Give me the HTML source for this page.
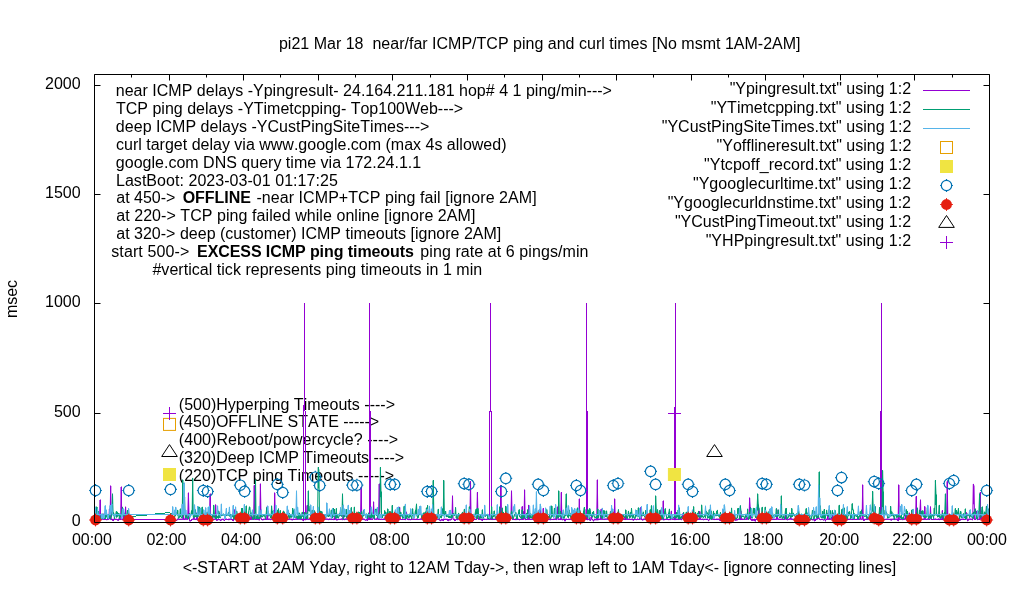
<!DOCTYPE html>
<html lang="en"><head><meta charset="utf-8"><title>pi21 ping and curl times</title>
<style>html,body{margin:0;padding:0;background:#fff;overflow:hidden}svg text{white-space:pre}</style></head>
<body>
<svg width="1020" height="600" viewBox="0 0 1020 600" font-family="'Liberation Sans', sans-serif" font-size="16" style="display:block;font-kerning:none" xml:space="preserve">
<rect width="1020" height="600" fill="#fff"/>
<path id="tics" d="M94.5 522.5v-6M94.5 74.5v6M131.5 522.5v-3M131.5 74.5v3M169.5 522.5v-6M169.5 74.5v6M206.5 522.5v-3M206.5 74.5v3M243.5 522.5v-6M243.5 74.5v6M280.5 522.5v-3M280.5 74.5v3M318.5 522.5v-6M318.5 74.5v6M355.5 522.5v-3M355.5 74.5v3M392.5 522.5v-6M392.5 74.5v6M430.5 522.5v-3M430.5 74.5v3M467.5 522.5v-6M467.5 74.5v6M504.5 522.5v-3M504.5 74.5v3M542.5 522.5v-6M542.5 74.5v6M579.5 522.5v-3M579.5 74.5v3M616.5 522.5v-6M616.5 74.5v6M653.5 522.5v-3M653.5 74.5v3M691.5 522.5v-6M691.5 74.5v6M728.5 522.5v-3M728.5 74.5v3M765.5 522.5v-6M765.5 74.5v6M803.5 522.5v-3M803.5 74.5v3M840.5 522.5v-6M840.5 74.5v6M877.5 522.5v-3M877.5 74.5v3M914.5 522.5v-6M914.5 74.5v6M952.5 522.5v-3M952.5 74.5v3M989.5 522.5v-6M989.5 74.5v6M94.5 522.5h6M989.5 522.5h-6M94.5 413.5h6M989.5 413.5h-6M94.5 303.5h6M989.5 303.5h-6M94.5 194.5h6M989.5 194.5h-6M94.5 85.5h6M989.5 85.5h-6" fill="none" stroke="#000" stroke-width="1"/>
<g id="labels" fill="#000">
<text x="115.71" y="96" textLength="496.24" lengthAdjust="spacing">near ICMP delays -Ypingresult- 24.164.211.181 hop# 4 1 ping/min---&gt;</text>
<text x="116.0" y="114" textLength="347.16" lengthAdjust="spacing">TCP ping delays -YTimetcpping- Top100Web---&gt;</text>
<text x="115.86" y="132" textLength="313.49" lengthAdjust="spacing">deep ICMP delays -YCustPingSiteTimes---&gt;</text>
<text x="116.03" y="150" textLength="390.45" lengthAdjust="spacing">curl target delay via www.google.com (max 4s allowed)</text>
<text x="115.86" y="168" textLength="305.36" lengthAdjust="spacing">google.com DNS query time via 172.24.1.1</text>
<text x="115.96" y="186" textLength="221.84" lengthAdjust="spacing">LastBoot: 2023-03-01 01:17:25</text>
<text x="116.22" y="203" textLength="59.23" lengthAdjust="spacing">at 450-&gt;</text>
<text x="182.65" y="203" textLength="68.19" lengthAdjust="spacing" font-weight="bold">OFFLINE</text>
<text x="256.43" y="203" textLength="280.23" lengthAdjust="spacing">-near ICMP+TCP ping fail [ignore 2AM]</text>
<text x="116.22" y="221" textLength="359.17" lengthAdjust="spacing">at 220-&gt; TCP ping failed while online [ignore 2AM]</text>
<text x="116.22" y="239" textLength="385.09" lengthAdjust="spacing">at 320-&gt; deep (customer) ICMP timeouts [ignore 2AM]</text>
<text x="111.2" y="257" textLength="78.14" lengthAdjust="spacing">start 500-&gt;</text>
<text x="197.04" y="257" textLength="216.89" lengthAdjust="spacing" font-weight="bold">EXCESS ICMP ping timeouts</text>
<text x="420.31" y="257" textLength="168.16" lengthAdjust="spacing">ping rate at 6 pings/min</text>
<text x="152.43" y="275" textLength="329.74" lengthAdjust="spacing">#vertical tick represents ping timeouts in 1 min</text>
<text x="178.78" y="410" textLength="216.25" lengthAdjust="spacing">(500)Hyperping Timeouts ----&gt;</text>
<text x="178.78" y="427" textLength="200.28" lengthAdjust="spacing">(450)OFFLINE STATE -----&gt;</text>
<text x="178.78" y="445" textLength="219.35" lengthAdjust="spacing">(400)Reboot/powercycle? ----&gt;</text>
<text x="178.78" y="463" textLength="225.41" lengthAdjust="spacing">(320)Deep ICMP Timeouts ----&gt;</text>
<text x="178.78" y="481" textLength="215.35" lengthAdjust="spacing">(220)TCP ping Timeouts -----&gt;</text>
</g>
<g id="data">
<path d="M94.5 519.4L95.1 520.1L95.7 519.4L96.4 517.8L97.0 519.2L97.6 519.6L98.2 519.6L98.9 519.6L99.5 519.3L100.1 500.0L100.7 519.3L101.3 519.3L102.0 519.2L102.6 519.1L103.2 514.1L103.8 519.3L104.4 519.4L105.1 519.1L105.7 519.3L106.3 519.6L106.9 519.6L107.6 519.4L108.2 519.3L108.8 519.3L109.4 509.1L110.0 519.2L110.7 486.0L111.3 519.4L111.9 519.5L112.5 519.4L113.1 520.6L113.8 519.3L114.4 519.0L115.0 519.3L115.6 519.3L116.3 519.4L116.9 519.3L117.5 519.7L118.1 520.3L118.7 519.1L119.4 519.1L120.0 519.5L120.6 519.5L121.2 487.0L121.8 519.3L122.5 519.3L123.1 519.5L123.7 515.8L124.3 519.7L125.0 519.5L125.6 507.1L126.2 519.5L126.8 519.3L127.4 520.4L128.1 519.3L128.7 519.3L129.3 517.8M171.6 519.5L172.2 519.3L172.8 519.4L173.4 519.6L174.1 519.7L174.7 519.7L175.3 519.4L175.9 520.3L176.5 520.4L177.2 519.7L177.8 519.1L178.4 519.1L179.0 519.2L179.6 519.4L180.3 519.3L180.9 519.4L181.5 519.4L182.1 519.2L182.8 519.1L183.4 513.7L184.0 519.4L184.6 519.3L185.2 519.3L185.9 516.0L186.5 519.2L187.1 519.2L187.7 519.3L188.4 493.0L189.0 514.3L189.6 520.8L190.2 520.8L190.8 520.9L191.5 519.5L192.1 519.3L192.7 519.3L193.3 519.3L193.9 516.7L194.6 519.3L195.2 519.3L195.8 519.5L196.4 519.3L197.1 512.3L197.7 519.3L198.3 520.4L198.9 519.5L199.5 519.3L200.2 519.6L200.8 519.3L201.4 519.2L202.0 519.5L202.6 519.5L203.3 519.3L203.9 520.6L204.5 519.2L205.1 519.4L205.8 519.4L206.4 519.4L207.0 519.3L207.6 518.9L208.2 519.4L208.9 519.2L209.5 515.0L210.1 494.0L210.7 517.8L211.3 517.1L212.0 519.3L212.6 519.6L213.2 519.4L213.8 519.2L214.5 519.4L215.1 519.2L215.7 504.9L216.3 519.5L216.9 520.3L217.6 519.6L218.2 519.3L218.8 519.6L219.4 519.5L220.0 519.9L220.7 520.6L221.3 519.5L221.9 519.4L222.5 519.3L223.2 519.3L223.8 519.5L224.4 520.5L225.0 519.3L225.6 519.3L226.3 519.3L226.9 519.1L227.5 519.5L228.1 519.2L228.8 519.7L229.4 519.5L230.0 519.3L230.6 517.4L231.2 519.4L231.9 519.5L232.5 519.5L233.1 520.7L233.7 519.2L234.3 509.9L235.0 519.2L235.6 519.4L236.2 519.2L236.8 520.2L237.5 519.3L238.1 519.4L238.7 519.2L239.3 519.5L239.9 514.8L240.6 519.3L241.2 519.2L241.8 519.2L242.4 519.1L243.0 520.7L243.7 519.4L244.3 519.7L244.9 519.8L245.5 519.0L246.2 513.8L246.8 519.3L247.4 519.2L248.0 519.4L248.6 519.3L249.3 519.2L249.9 519.2L250.5 519.5L251.1 514.0L251.7 519.4L252.4 517.3L253.0 519.4L253.6 519.4L254.2 485.5L254.9 519.3L255.5 519.1L256.1 519.4L256.7 519.3L257.3 519.2L258.0 519.4L258.6 519.5L259.2 519.9L259.8 519.2L260.4 484.0L261.1 519.1L261.7 519.5L262.3 519.5L262.9 519.8L263.6 519.3L264.2 519.3L264.8 519.3L265.4 519.4L266.0 519.5L266.7 519.2L267.3 506.4L267.9 519.4L268.5 519.3L269.1 519.3L269.8 519.2L270.4 519.6L271.0 519.3L271.6 519.3L272.3 519.1L272.9 519.4L273.5 516.6L274.1 519.3L274.7 493.0L275.4 519.4L276.0 520.2L276.6 519.4L277.2 519.4L277.9 515.3L278.5 519.1L279.1 519.4L279.7 519.3L280.3 519.2L281.0 519.3L281.6 519.3L282.2 519.4L282.8 519.3L283.4 519.3L284.1 519.3L284.7 519.4L285.3 519.4L285.9 519.4L286.6 519.3L287.2 519.3L287.8 519.4L288.4 519.4L289.0 519.0L289.7 519.3L290.3 519.2L290.9 519.2L291.5 519.2L292.1 519.9L292.8 519.3L293.4 519.1L294.0 519.5L294.6 519.4L295.3 519.2L295.9 519.1L296.5 519.3L297.1 516.4L297.7 519.3L298.4 519.1L299.0 519.1L299.6 519.2L300.2 515.9L300.8 519.2L301.5 519.4L302.1 519.2L302.7 519.3L303.3 520.7L304.0 519.3L304.6 519.3L305.2 519.7L305.8 519.1L306.4 519.4L307.1 505.5L307.7 519.2L308.3 519.3L308.9 519.3L309.5 519.0L310.2 519.4L310.8 519.5L311.4 519.3L312.0 519.3L312.7 519.6L313.3 519.4L313.9 519.4L314.5 519.3L315.1 519.4L315.8 515.9L316.4 519.3L317.0 519.0L317.6 519.8L318.2 519.6L318.9 519.3L319.5 519.5L320.1 519.2L320.7 520.5L321.4 519.5L322.0 519.5L322.6 519.4L323.2 520.7L323.8 519.2L324.5 519.4L325.1 519.2L325.7 519.3L326.3 519.1L327.0 519.2L327.6 519.2L328.2 519.3L328.8 519.6L329.4 519.1L330.1 519.4L330.7 519.2L331.3 519.5L331.9 519.3L332.5 519.4L333.2 519.6L333.8 519.2L334.4 519.5L335.0 513.3L335.7 519.3L336.3 519.2L336.9 520.0L337.5 519.3L338.1 519.4L338.8 519.4L339.4 519.4L340.0 519.3L340.6 519.4L341.2 519.1L341.9 519.0L342.5 519.7L343.1 513.6L343.7 519.4L344.4 519.6L345.0 519.2L345.6 519.1L346.2 519.3L346.8 519.2L347.5 519.2L348.1 519.3L348.7 519.2L349.3 519.2L349.9 519.2L350.6 519.3L351.2 519.3L351.8 519.4L352.4 519.3L353.1 519.2L353.7 519.5L354.3 519.3L354.9 519.4L355.5 519.3L356.2 519.4L356.8 519.9L357.4 519.3L358.0 519.3L358.6 519.4L359.3 520.0L359.9 519.3L360.5 519.4L361.1 487.0L361.8 519.5L362.4 519.2L363.0 519.1L363.6 519.3L364.2 519.3L364.9 519.6L365.5 520.1L366.1 520.0L366.7 519.4L367.4 520.5L368.0 515.4L368.6 519.5L369.2 519.1L369.8 519.1L370.5 519.3L371.1 519.4L371.7 519.0L372.3 519.4L372.9 519.3L373.6 502.0L374.2 519.2L374.8 519.1L375.4 519.2L376.1 519.2L376.7 519.3L377.3 517.4L377.9 519.1L378.5 519.4L379.2 484.0L379.8 519.4L380.4 519.5L381.0 519.1L381.6 519.3L382.3 519.4L382.9 519.5L383.5 519.2L384.1 519.5L384.8 519.4L385.4 516.0L386.0 519.1L386.6 519.1L387.2 519.4L387.9 520.2L388.5 519.3L389.1 520.0L389.7 519.4L390.3 519.3L391.0 519.9L391.6 519.3L392.2 519.1L392.8 520.9L393.5 519.5L394.1 519.3L394.7 519.3L395.3 519.3L395.9 512.8L396.6 519.5L397.2 519.2L397.8 519.3L398.4 515.2L399.0 519.3L399.7 507.4L400.3 519.3L400.9 519.3L401.5 519.5L402.2 519.5L402.8 519.3L403.4 519.3L404.0 519.3L404.6 519.3L405.3 519.6L405.9 519.3L406.5 512.2L407.1 519.3L407.8 519.2L408.4 519.5L409.0 519.6L409.6 519.2L410.2 519.6L410.9 519.6L411.5 519.2L412.1 519.3L412.7 519.1L413.3 519.4L414.0 519.4L414.6 519.2L415.2 519.4L415.8 519.5L416.5 519.2L417.1 519.5L417.7 519.4L418.3 519.5L418.9 519.4L419.6 519.4L420.2 519.1L420.8 519.2L421.4 519.1L422.0 519.3L422.7 519.3L423.3 519.4L423.9 519.2L424.5 520.9L425.2 519.3L425.8 519.6L426.4 519.2L427.0 519.6L427.6 519.6L428.3 519.4L428.9 519.3L429.5 516.7L430.1 519.4L430.7 519.5L431.4 519.6L432.0 515.2L432.6 519.3L433.2 519.5L433.9 520.5L434.5 519.0L435.1 519.2L435.7 519.3L436.3 519.2L437.0 519.3L437.6 519.3L438.2 519.2L438.8 519.4L439.4 519.0L440.1 520.4L440.7 520.7L441.3 519.4L441.9 519.6L442.6 519.5L443.2 520.6L443.8 519.2L444.4 519.3L445.0 519.5L445.7 519.3L446.3 519.5L446.9 519.3L447.5 519.4L448.1 520.7L448.8 519.5L449.4 519.5L450.0 520.0L450.6 519.5L451.3 519.3L451.9 519.2L452.5 496.0L453.1 519.4L453.7 519.4L454.4 519.3L455.0 520.6L455.6 520.0L456.2 519.1L456.9 519.4L457.5 519.6L458.1 519.1L458.7 519.2L459.3 519.3L460.0 519.5L460.6 520.3L461.2 519.5L461.8 519.2L462.4 519.6L463.1 519.4L463.7 519.4L464.3 519.6L464.9 519.2L465.6 519.5L466.2 520.1L466.8 519.1L467.4 519.4L468.0 519.5L468.7 519.5L469.3 519.3L469.9 519.2L470.5 481.6L471.1 519.5L471.8 517.2L472.4 519.3L473.0 520.6L473.6 519.6L474.3 519.4L474.9 519.2L475.5 519.5L476.1 519.3L476.7 519.1L477.4 492.5L478.0 515.7L478.6 519.2L479.2 519.3L479.8 519.4L480.5 519.2L481.1 519.2L481.7 519.4L482.3 520.6L483.0 519.3L483.6 519.4L484.2 519.5L484.8 519.2L485.4 519.4L486.1 519.3L486.7 519.5L487.3 519.1L487.9 519.1L488.5 519.3L489.2 519.2L489.8 519.3L490.4 519.3L491.0 519.3L491.7 519.2L492.3 519.5L492.9 519.5L493.5 519.3L494.1 519.4L494.8 519.3L495.4 519.4L496.0 519.3L496.6 519.3L497.2 519.7L497.9 519.3L498.5 519.4L499.1 519.3L499.7 519.2L500.4 519.1L501.0 485.5L501.6 519.6L502.2 519.3L502.8 519.1L503.5 519.6L504.1 519.2L504.7 519.3L505.3 517.4L506.0 519.5L506.6 519.3L507.2 519.0L507.8 519.3L508.4 519.5L509.1 519.6L509.7 519.3L510.3 519.3L510.9 519.1L511.5 491.0L512.2 519.5L512.8 519.0L513.4 519.3L514.0 519.4L514.7 519.5L515.3 519.1L515.9 519.6L516.5 519.4L517.1 519.5L517.8 519.2L518.4 519.3L519.0 519.5L519.6 519.7L520.2 519.3L520.9 519.4L521.5 519.2L522.1 506.7L522.7 519.5L523.4 511.8L524.0 519.3L524.6 490.0L525.2 519.6L525.8 519.5L526.5 519.5L527.1 519.4L527.7 519.4L528.3 519.3L528.9 505.4L529.6 519.4L530.2 519.5L530.8 519.4L531.4 519.4L532.1 519.4L532.7 519.2L533.3 513.5L533.9 519.3L534.5 513.6L535.2 519.4L535.8 519.2L536.4 520.3L537.0 515.5L537.6 520.7L538.3 519.1L538.9 519.2L539.5 519.3L540.1 509.0L540.8 520.1L541.4 519.5L542.0 519.7L542.6 519.2L543.2 508.5L543.9 519.8L544.5 519.3L545.1 519.4L545.7 519.2L546.4 519.3L547.0 519.4L547.6 519.4L548.2 519.5L548.8 519.5L549.5 519.2L550.1 519.7L550.7 519.3L551.3 519.3L551.9 519.3L552.6 519.5L553.2 519.2L553.8 519.5L554.4 519.2L555.1 519.4L555.7 519.1L556.3 516.0L556.9 519.6L557.5 507.0L558.2 519.2L558.8 519.5L559.4 519.3L560.0 519.5L560.6 519.2L561.3 492.5L561.9 519.3L562.5 519.7L563.1 519.4L563.8 519.5L564.4 519.3L565.0 520.8L565.6 519.3L566.2 519.4L566.9 519.2L567.5 519.5L568.1 519.3L568.7 519.2L569.3 519.5L570.0 519.2L570.6 519.3L571.2 519.3L571.8 519.2L572.5 520.1L573.1 513.4L573.7 519.2L574.3 519.5L574.9 519.3L575.6 519.7L576.2 519.2L576.8 517.4L577.4 519.4L578.0 519.6L578.7 519.4L579.3 499.0L579.9 519.4L580.5 519.0L581.2 519.1L581.8 519.6L582.4 519.6L583.0 519.4L583.6 519.3L584.3 519.3L584.9 519.3L585.5 519.1L586.1 509.4L586.8 514.2L587.4 519.7L588.0 519.4L588.6 519.4L589.2 519.2L589.9 520.0L590.5 520.3L591.1 516.7L591.7 519.0L592.3 519.3L593.0 519.8L593.6 521.0L594.2 519.2L594.8 519.5L595.5 519.3L596.1 519.8L596.7 519.1L597.3 480.0L597.9 519.8L598.6 519.2L599.2 519.4L599.8 519.3L600.4 519.3L601.0 509.3L601.7 519.3L602.3 519.2L602.9 519.3L603.5 519.2L604.2 519.3L604.8 519.4L605.4 519.1L606.0 519.2L606.6 519.1L607.3 519.3L607.9 519.2L608.5 519.5L609.1 519.2L609.7 519.7L610.4 519.3L611.0 519.7L611.6 519.5L612.2 519.4L612.9 519.5L613.5 519.5L614.1 519.3L614.7 499.0L615.3 519.3L616.0 519.4L616.6 519.2L617.2 512.9L617.8 519.2L618.4 519.4L619.1 519.4L619.7 519.3L620.3 519.1L620.9 519.3L621.6 519.2L622.2 519.2L622.8 519.4L623.4 519.1L624.0 519.0L624.7 519.2L625.3 519.5L625.9 516.2L626.5 519.3L627.1 519.3L627.8 519.3L628.4 519.3L629.0 519.1L629.6 519.3L630.3 519.4L630.9 519.4L631.5 519.3L632.1 519.3L632.7 519.3L633.4 520.2L634.0 519.3L634.6 519.4L635.2 519.2L635.9 519.1L636.5 519.6L637.1 519.2L637.7 519.1L638.3 519.4L639.0 519.4L639.6 519.2L640.2 519.1L640.8 507.7L641.4 519.2L642.1 519.4L642.7 520.1L643.3 519.2L643.9 519.2L644.6 519.3L645.2 519.1L645.8 519.4L646.4 519.3L647.0 519.4L647.7 519.4L648.3 519.4L648.9 519.4L649.5 519.4L650.1 519.2L650.8 519.4L651.4 519.2L652.0 519.2L652.6 519.4L653.3 519.4L653.9 519.2L654.5 519.2L655.1 519.3L655.7 519.3L656.4 519.5L657.0 519.5L657.6 519.4L658.2 519.5L658.8 519.5L659.5 519.3L660.1 519.5L660.7 510.8L661.3 519.3L662.0 519.1L662.6 519.2L663.2 501.0L663.8 519.8L664.4 519.5L665.1 519.3L665.7 519.4L666.3 519.3L666.9 519.4L667.5 519.4L668.2 519.5L668.8 519.6L669.4 519.4L670.0 519.6L670.7 519.3L671.3 511.3L671.9 519.1L672.5 519.1L673.1 519.4L673.8 519.2L674.4 519.5L675.0 519.6L675.6 519.3L676.2 519.5L676.9 519.4L677.5 519.2L678.1 519.5L678.7 519.4L679.4 519.3L680.0 519.0L680.6 519.2L681.2 519.1L681.8 519.7L682.5 513.9L683.1 519.3L683.7 519.3L684.3 519.5L685.0 519.6L685.6 519.4L686.2 519.4L686.8 519.4L687.4 519.4L688.1 519.3L688.7 519.5L689.3 519.4L689.9 519.5L690.5 519.3L691.2 519.4L691.8 519.2L692.4 519.5L693.0 518.9L693.7 519.1L694.3 519.1L694.9 519.0L695.5 519.8L696.1 519.5L696.8 519.3L697.4 519.5L698.0 519.5L698.6 519.4L699.2 519.4L699.9 511.6L700.5 519.1L701.1 519.4L701.7 519.4L702.4 519.4L703.0 519.1L703.6 519.7L704.2 519.4L704.8 519.3L705.5 519.3L706.1 519.2L706.7 519.5L707.3 519.3L707.9 519.5L708.6 520.7L709.2 519.2L709.8 519.4L710.4 510.7L711.1 519.2L711.7 519.4L712.3 519.0L712.9 519.2L713.5 519.1L714.2 519.5L714.8 519.2L715.4 519.4L716.0 519.5L716.6 519.2L717.3 519.2L717.9 519.5L718.5 519.3L719.1 519.2L719.8 520.2L720.4 519.1L721.0 520.6L721.6 519.3L722.2 519.3L722.9 519.2L723.5 519.1L724.1 520.4L724.7 519.2L725.4 519.9L726.0 519.7L726.6 519.6L727.2 519.6L727.8 519.1L728.5 519.4L729.1 520.4L729.7 519.4L730.3 519.0L730.9 519.3L731.6 519.1L732.2 519.2L732.8 519.2L733.4 519.3L734.1 519.5L734.7 519.7L735.3 519.2L735.9 520.3L736.5 519.1L737.2 519.9L737.8 519.3L738.4 519.2L739.0 519.2L739.6 519.1L740.3 519.5L740.9 510.8L741.5 519.2L742.1 519.5L742.8 519.2L743.4 519.3L744.0 519.4L744.6 519.1L745.2 519.1L745.9 519.3L746.5 519.3L747.1 513.8L747.7 519.2L748.3 519.2L749.0 519.5L749.6 498.0L750.2 507.5L750.8 519.3L751.5 519.3L752.1 520.4L752.7 519.3L753.3 520.2L753.9 519.5L754.6 519.3L755.2 521.1L755.8 519.6L756.4 519.2L757.0 519.2L757.7 514.4L758.3 520.8L758.9 508.2L759.5 519.3L760.2 519.1L760.8 515.7L761.4 519.4L762.0 519.4L762.6 519.3L763.3 519.3L763.9 519.2L764.5 519.2L765.1 519.4L765.8 519.2L766.4 519.2L767.0 519.6L767.6 519.4L768.2 519.5L768.9 519.4L769.5 519.2L770.1 519.2L770.7 519.2L771.3 519.3L772.0 519.4L772.6 519.3L773.2 519.4L773.8 519.3L774.5 519.3L775.1 519.4L775.7 519.4L776.3 519.4L776.9 509.5L777.6 519.2L778.2 519.1L778.8 519.4L779.4 519.3L780.0 519.3L780.7 519.4L781.3 519.2L781.9 519.2L782.5 519.4L783.2 519.3L783.8 519.5L784.4 519.4L785.0 519.2L785.6 512.1L786.3 519.4L786.9 519.4L787.5 519.7L788.1 519.4L788.7 519.3L789.4 519.1L790.0 519.2L790.6 517.1L791.2 519.3L791.9 519.0L792.5 519.3L793.1 519.4L793.7 519.3L794.3 519.5L795.0 519.3L795.6 519.2L796.2 519.6L796.8 519.5L797.4 519.3L798.1 519.2L798.7 519.3L799.3 519.1L799.9 519.5L800.6 520.6L801.2 519.5L801.8 519.4L802.4 519.1L803.0 519.4L803.7 519.4L804.3 519.2L804.9 519.3L805.5 519.1L806.1 519.2L806.8 519.5L807.4 519.2L808.0 519.3L808.6 519.3L809.3 519.1L809.9 519.9L810.5 519.3L811.1 519.2L811.7 519.4L812.4 519.4L813.0 519.9L813.6 519.3L814.2 519.6L814.9 520.9L815.5 519.3L816.1 519.4L816.7 519.1L817.3 519.0L818.0 516.1L818.6 516.6L819.2 519.4L819.8 519.1L820.4 519.6L821.1 519.5L821.7 519.3L822.3 519.4L822.9 519.3L823.6 520.1L824.2 519.4L824.8 518.0L825.4 521.0L826.0 519.4L826.7 519.3L827.3 519.2L827.9 513.9L828.5 519.4L829.1 519.5L829.8 519.4L830.4 519.1L831.0 519.1L831.6 517.4L832.3 519.7L832.9 512.8L833.5 519.5L834.1 520.8L834.7 519.2L835.4 519.7L836.0 519.5L836.6 516.4L837.2 519.5L837.8 519.5L838.5 515.8L839.1 519.2L839.7 514.5L840.3 519.3L841.0 519.2L841.6 519.5L842.2 519.4L842.8 519.1L843.4 519.3L844.1 519.3L844.7 519.5L845.3 519.4L845.9 519.1L846.5 519.4L847.2 519.5L847.8 519.5L848.4 519.3L849.0 519.4L849.7 519.3L850.3 519.2L850.9 519.3L851.5 519.3L852.1 519.2L852.8 519.5L853.4 519.3L854.0 519.3L854.6 519.3L855.2 519.4L855.9 519.5L856.5 519.4L857.1 519.4L857.7 519.2L858.4 519.3L859.0 519.3L859.6 519.4L860.2 517.1L860.8 519.2L861.5 519.3L862.1 519.2L862.7 485.0L863.3 519.5L864.0 520.4L864.6 519.4L865.2 519.4L865.8 519.3L866.4 519.2L867.1 519.5L867.7 519.4L868.3 519.1L868.9 518.0L869.5 519.5L870.2 519.4L870.8 519.2L871.4 519.4L872.0 519.3L872.7 519.3L873.3 519.3L873.9 519.6L874.5 519.3L875.1 519.1L875.8 519.2L876.4 519.5L877.0 519.4L877.6 519.5L878.2 519.1L878.9 519.3L879.5 519.6L880.1 519.2L880.7 519.4L881.4 512.3L882.0 519.4L882.6 519.6L883.2 519.0L883.8 519.4L884.5 519.3L885.1 519.4L885.7 519.4L886.3 519.3L886.9 519.3L887.6 519.3L888.2 519.3L888.8 519.2L889.4 519.4L890.1 519.3L890.7 519.5L891.3 520.1L891.9 519.2L892.5 519.3L893.2 519.4L893.8 519.0L894.4 519.5L895.0 519.3L895.6 519.2L896.3 519.3L896.9 519.1L897.5 519.2L898.1 520.7L898.8 485.0L899.4 519.4L900.0 519.4L900.6 519.2L901.2 519.2L901.9 519.1L902.5 519.6L903.1 519.5L903.7 519.5L904.4 519.1L905.0 519.0L905.6 512.8L906.2 520.1L906.8 519.6L907.5 519.4L908.1 519.4L908.7 519.4L909.3 513.1L909.9 519.3L910.6 519.4L911.2 515.0L911.8 519.3L912.4 519.9L913.1 519.2L913.7 519.4L914.3 519.4L914.9 519.2L915.5 519.2L916.2 496.5L916.8 519.2L917.4 519.3L918.0 519.5L918.6 519.3L919.3 519.3L919.9 511.1L920.5 500.0L921.1 519.6L921.8 519.4L922.4 519.4L923.0 519.5L923.6 519.2L924.2 519.4L924.9 506.7L925.5 518.9L926.1 519.4L926.7 519.4L927.3 519.1L928.0 519.1L928.6 519.1L929.2 519.3L929.8 519.5L930.5 506.9L931.1 519.5L931.7 519.3L932.3 519.5L932.9 519.5L933.6 519.5L934.2 519.2L934.8 519.4L935.4 519.1L936.0 519.4L936.7 519.4L937.3 519.4L937.9 519.5L938.5 519.1L939.2 519.1L939.8 519.6L940.4 519.4L941.0 519.3L941.6 519.5L942.3 510.7L942.9 519.5L943.5 519.3L944.1 519.8L944.8 519.3L945.4 520.1L946.0 519.1L946.6 519.3L947.2 481.6L947.9 519.6L948.5 519.4L949.1 519.3L949.7 519.4L950.3 519.3L951.0 519.2L951.6 519.3L952.2 519.4L952.8 520.2L953.5 519.3L954.1 519.4L954.7 515.9L955.3 519.4L955.9 519.4L956.6 519.2L957.2 519.4L957.8 519.2L958.4 519.2L959.0 519.0L959.7 520.6L960.3 519.4L960.9 519.5L961.5 519.4L962.2 519.1L962.8 519.3L963.4 519.2L964.0 519.5L964.6 519.5L965.3 519.3L965.9 519.5L966.5 512.8L967.1 519.6L967.7 520.8L968.4 519.3L969.0 519.3L969.6 519.1L970.2 519.3L970.9 519.1L971.5 519.3L972.1 519.0L972.7 519.8L973.3 484.4L974.0 486.0L974.6 519.3L975.2 519.2L975.8 519.5L976.4 511.3L977.1 519.2L977.7 519.6L978.3 519.2L978.9 519.3L979.6 519.5L980.2 492.5L980.8 519.2L981.4 514.4L982.0 519.5L982.7 519.2L983.3 519.3L983.9 519.5L984.5 519.5L985.1 519.4L985.8 519.3L986.4 519.4L987.0 520.0L987.6 519.2L988.3 519.2L988.9 519.4L989.5 519.4" fill="none" stroke="#9400d3" stroke-width="1" stroke-linejoin="miter" stroke-miterlimit="2"/><path d="M94.5 518.9V520.4M95.5 518.9V520.6M96.5 517.3V519.7M97.5 519.1V520.1M98.5 519.1V520.1M99.5 518.8V520.0M100.5 499.5V519.8M101.5 518.7V519.8M102.5 518.6V519.7M103.5 513.6V519.9M104.5 518.9V519.9M105.5 518.6V519.9M106.5 519.1V520.1M107.5 518.9V520.1M108.5 518.8V519.8M109.5 508.6V519.1M110.5 485.5V519.7M111.5 518.9V520.0M112.5 518.9V520.8M113.5 518.8V521.1M114.5 518.5V519.8M115.5 518.8V519.9M116.5 518.8V519.9M117.5 519.2V520.6M118.5 518.6V520.8M119.5 518.6V520.0M120.5 519.0V520.0M121.5 486.5V519.8M122.5 518.8V520.0M123.5 515.3V520.0M124.5 519.0V520.2M125.5 506.6V519.1M126.5 518.8V520.1M127.5 519.9V520.9M128.5 518.8V519.9M129.5 517.3V519.1M171.5 519.0V520.0M172.5 518.8V520.0M173.5 519.1V520.2M174.5 519.2V520.2M175.5 518.9V520.8M176.5 519.9V520.9M177.5 518.6V520.3M178.5 518.6V519.7M179.5 518.7V519.9M180.5 518.8V519.9M181.5 518.9V519.9M182.5 518.6V519.8M183.5 513.2V519.9M184.5 518.8V519.9M185.5 515.5V519.8M186.5 518.7V519.7M187.5 518.7V519.8M188.5 492.5V515.1M189.5 520.3V521.3M190.5 520.3V521.4M191.5 519.0V521.0M192.5 518.8V519.8M193.5 516.2V519.8M194.5 518.8V519.8M195.5 518.8V520.0M196.5 518.8V519.9M197.5 511.8V520.4M198.5 519.0V520.9M199.5 518.8V520.0M200.5 518.8V520.1M201.5 518.7V520.0M202.5 519.0V520.0M203.5 518.8V521.1M204.5 518.7V520.9M205.5 518.9V519.9M206.5 518.8V519.9M207.5 518.4V519.8M208.5 518.7V519.9M209.5 514.5V518.8M210.5 493.5V518.3M211.5 516.6V519.8M212.5 519.1V520.1M213.5 518.7V519.9M214.5 518.9V519.9M215.5 504.4V519.7M216.5 519.0V520.8M217.5 519.1V520.7M218.5 518.8V520.1M219.5 519.0V520.3M220.5 519.4V521.1M221.5 518.9V520.5M222.5 518.8V519.9M223.5 518.8V520.4M224.5 520.0V521.0M225.5 518.8V519.9M226.5 518.6V519.8M227.5 519.0V520.0M228.5 518.7V520.2M229.5 518.8V520.1M230.5 516.9V519.8M231.5 518.9V520.0M232.5 519.0V521.0M233.5 518.7V521.2M234.5 509.4V519.7M235.5 518.9V519.9M236.5 518.7V520.7M237.5 518.8V520.4M238.5 518.7V519.9M239.5 514.3V520.0M240.5 518.8V519.8M241.5 518.7V519.8M242.5 518.6V521.1M243.5 518.9V521.2M244.5 519.2V520.3M245.5 518.5V520.2M246.5 513.3V519.8M247.5 518.7V519.9M248.5 518.8V519.9M249.5 518.7V519.8M250.5 519.0V520.0M251.5 513.5V519.9M252.5 516.8V519.9M253.5 518.9V519.9M254.5 485.0V519.8M255.5 518.6V519.9M256.5 518.8V519.9M257.5 518.7V519.9M258.5 519.0V520.2M259.5 518.7V520.4M260.5 483.5V515.7M261.5 518.6V520.0M262.5 519.0V520.3M263.5 518.8V520.2M264.5 518.8V519.8M265.5 518.9V520.0M266.5 518.7V520.0M267.5 505.9V519.9M268.5 518.8V519.9M269.5 518.7V519.8M270.5 519.1V520.1M271.5 518.8V519.8M272.5 518.6V519.9M273.5 516.1V519.4M274.5 492.5V519.8M275.5 518.9V520.7M276.5 518.9V520.6M277.5 514.8V519.9M278.5 518.6V519.8M279.5 518.8V519.9M280.5 518.7V519.8M281.5 518.8V519.9M282.5 518.8V519.9M283.5 518.8V519.8M284.5 518.8V519.9M285.5 518.9V519.9M286.5 518.8V519.9M287.5 518.8V519.9M288.5 518.9V519.9M289.5 518.5V519.8M290.5 518.7V519.7M291.5 518.7V520.2M292.5 518.8V520.4M293.5 518.6V520.0M294.5 518.9V520.0M295.5 518.6V519.8M296.5 518.8V519.8M297.5 515.9V519.8M298.5 518.6V519.7M299.5 518.7V519.7M300.5 515.4V519.8M301.5 518.9V519.9M302.5 518.7V520.5M303.5 518.8V521.2M304.5 518.8V520.1M305.5 518.6V520.2M306.5 518.9V519.9M307.5 505.0V519.8M308.5 518.8V519.8M309.5 518.5V519.8M310.5 518.9V520.0M311.5 518.8V519.9M312.5 518.8V520.1M313.5 518.9V520.0M314.5 518.8V519.9M315.5 515.4V519.9M316.5 518.8V519.8M317.5 518.5V520.3M318.5 518.8V520.2M319.5 519.0V520.0M320.5 518.7V521.0M321.5 519.0V520.6M322.5 518.9V520.7M323.5 518.7V521.2M324.5 518.9V519.9M325.5 518.7V519.8M326.5 518.6V519.7M327.5 518.7V519.8M328.5 518.8V520.1M329.5 518.6V520.0M330.5 518.7V519.9M331.5 518.8V520.0M332.5 518.9V520.0M333.5 518.7V520.1M334.5 519.0V520.0M335.5 512.8V519.8M336.5 518.7V520.5M337.5 518.8V520.4M338.5 518.9V519.9M339.5 518.9V519.9M340.5 518.8V519.9M341.5 518.5V519.8M342.5 519.2V520.2M343.5 513.1V520.0M344.5 518.7V520.1M345.5 518.6V519.8M346.5 518.7V519.8M347.5 518.7V519.8M348.5 518.7V519.8M349.5 518.7V519.7M350.5 518.8V519.8M351.5 518.8V519.9M352.5 518.8V519.9M353.5 518.7V520.0M354.5 518.8V519.9M355.5 518.8V519.9M356.5 518.9V520.4M357.5 518.8V520.2M358.5 518.8V520.2M359.5 518.8V520.5M360.5 518.9V519.9M361.5 486.5V520.0M362.5 518.7V519.9M363.5 518.6V519.8M364.5 518.8V520.2M365.5 519.6V520.6M366.5 518.9V520.5M367.5 514.9V521.0M368.5 519.0V520.0M369.5 518.6V519.8M370.5 518.8V519.9M371.5 518.5V519.9M372.5 518.8V519.9M373.5 501.5V518.2M374.5 518.6V519.7M375.5 518.7V519.7M376.5 518.7V519.8M377.5 516.9V519.7M378.5 518.9V519.9M379.5 483.5V519.9M380.5 519.0V520.0M381.5 518.6V519.8M382.5 518.9V520.0M383.5 518.7V520.0M384.5 518.9V520.0M385.5 515.5V519.6M386.5 518.6V519.8M387.5 518.9V520.7M388.5 518.8V520.5M389.5 518.9V520.5M390.5 518.8V520.4M391.5 518.8V520.3M392.5 518.6V521.4M393.5 519.0V521.0M394.5 518.8V519.8M395.5 512.3V519.8M396.5 519.0V520.0M397.5 518.7V519.8M398.5 514.7V519.5M399.5 506.9V519.8M400.5 518.8V519.8M401.5 519.0V520.0M402.5 518.8V520.0M403.5 518.8V519.8M404.5 518.8V520.0M405.5 518.8V520.1M406.5 511.7V518.5M407.5 518.7V519.8M408.5 519.0V520.1M409.5 518.7V520.1M410.5 519.1V520.1M411.5 518.7V520.0M412.5 518.6V519.8M413.5 518.9V519.9M414.5 518.7V519.9M415.5 518.9V520.0M416.5 518.7V520.0M417.5 518.9V520.0M418.5 518.9V520.0M419.5 518.9V519.9M420.5 518.6V519.7M421.5 518.6V519.8M422.5 518.8V519.9M423.5 518.7V520.0M424.5 520.4V521.4M425.5 518.8V520.2M426.5 518.7V520.0M427.5 519.1V520.1M428.5 518.8V520.0M429.5 516.2V519.3M430.5 518.9V520.0M431.5 514.7V520.1M432.5 518.8V519.9M433.5 519.0V521.0M434.5 518.5V520.7M435.5 518.7V519.8M436.5 518.7V519.8M437.5 518.8V519.8M438.5 518.7V519.9M439.5 518.5V520.7M440.5 519.9V521.2M441.5 518.9V520.6M442.5 519.0V520.8M443.5 518.7V521.1M444.5 518.8V520.0M445.5 518.8V520.0M446.5 518.8V520.0M447.5 518.9V520.9M448.5 519.0V521.2M449.5 519.0V520.5M450.5 519.0V520.5M451.5 518.7V519.9M452.5 495.5V515.3M453.5 518.9V519.9M454.5 518.8V521.1M455.5 519.5V521.0M456.5 518.6V519.9M457.5 519.1V520.1M458.5 518.6V519.7M459.5 518.8V520.1M460.5 519.8V520.8M461.5 518.7V520.3M462.5 519.1V520.1M463.5 518.9V520.0M464.5 518.7V520.1M465.5 519.0V520.4M466.5 518.6V520.6M467.5 518.9V520.0M468.5 519.0V520.0M469.5 518.7V519.9M470.5 481.1V513.9M471.5 516.7V520.0M472.5 518.8V521.0M473.5 519.1V521.1M474.5 518.7V520.0M475.5 519.0V520.0M476.5 518.6V519.8M477.5 492.0V516.3M478.5 518.7V519.8M479.5 518.8V519.9M480.5 518.7V519.9M481.5 518.7V520.5M482.5 518.8V521.1M483.5 518.9V520.0M484.5 518.7V520.0M485.5 518.9V519.9M486.5 518.8V520.0M487.5 518.6V519.8M488.5 518.8V519.8M489.5 518.7V519.8M490.5 518.8V519.8M491.5 518.7V519.9M492.5 519.0V520.0M493.5 518.8V520.0M494.5 518.8V519.9M495.5 518.9V519.9M496.5 518.8V520.0M497.5 518.8V520.2M498.5 518.9V519.9M499.5 518.7V519.8M500.5 485.0V519.6M501.5 519.1V520.1M502.5 518.6V519.9M503.5 519.1V520.1M504.5 518.7V519.8M505.5 516.9V520.0M506.5 518.8V520.0M507.5 518.5V519.9M508.5 519.0V520.1M509.5 518.8V520.1M510.5 518.6V519.8M511.5 490.5V516.2M512.5 518.5V520.0M513.5 518.8V519.9M514.5 518.9V520.0M515.5 518.6V520.1M516.5 518.9V520.1M517.5 518.7V520.0M518.5 518.8V520.0M519.5 519.0V520.2M520.5 518.8V520.0M521.5 518.7V519.9M522.5 506.2V520.0M523.5 511.3V519.8M524.5 489.5V518.6M525.5 519.0V520.1M526.5 519.0V520.0M527.5 518.9V519.9M528.5 504.9V519.9M529.5 518.9V519.9M530.5 518.9V520.0M531.5 518.9V519.9M532.5 518.7V519.9M533.5 513.0V519.8M534.5 513.1V519.0M535.5 518.7V520.1M536.5 519.8V520.8M537.5 515.0V521.2M538.5 518.6V520.3M539.5 518.8V519.8M540.5 508.5V520.6M541.5 519.0V520.4M542.5 518.7V520.2M543.5 508.0V520.3M544.5 518.8V520.2M545.5 518.7V519.9M546.5 518.8V519.9M547.5 518.9V519.9M548.5 519.0V520.0M549.5 518.7V520.1M550.5 518.8V520.2M551.5 518.8V519.8M552.5 519.0V520.0M553.5 518.7V520.0M554.5 518.7V519.9M555.5 518.6V519.9M556.5 515.5V520.1M557.5 506.5V518.4M558.5 518.7V520.0M559.5 518.8V520.0M560.5 518.7V520.0M561.5 492.0V519.9M562.5 519.2V520.2M563.5 518.9V520.0M564.5 518.8V521.3M565.5 518.8V521.3M566.5 518.7V519.9M567.5 519.0V520.0M568.5 518.7V519.8M569.5 518.7V520.0M570.5 518.8V519.8M571.5 518.7V519.9M572.5 519.6V520.6M573.5 512.9V519.8M574.5 518.8V520.0M575.5 519.2V520.2M576.5 516.9V519.8M577.5 518.9V520.1M578.5 518.9V520.1M579.5 498.5V519.9M580.5 518.5V519.8M581.5 518.6V520.1M582.5 519.1V520.1M583.5 518.8V519.9M584.5 518.8V519.8M585.5 518.6V519.7M586.5 508.9V516.9M587.5 518.9V520.2M588.5 518.9V519.9M589.5 518.7V520.6M590.5 519.8V520.8M591.5 516.2V519.6M592.5 518.8V520.4M593.5 520.5V521.5M594.5 518.7V520.3M595.5 518.8V520.3M596.5 518.6V520.3M597.5 479.5V520.3M598.5 518.7V520.2M599.5 518.8V519.9M600.5 518.8V519.8M601.5 508.8V519.8M602.5 518.7V519.8M603.5 518.7V519.8M604.5 518.8V519.9M605.5 518.6V519.8M606.5 518.6V519.7M607.5 518.7V519.8M608.5 519.0V520.0M609.5 518.7V520.2M610.5 518.8V520.2M611.5 519.0V520.2M612.5 518.9V520.0M613.5 519.0V520.0M614.5 498.5V519.8M615.5 518.8V519.9M616.5 518.7V519.9M617.5 512.4V519.8M618.5 518.9V519.9M619.5 518.8V519.9M620.5 518.6V519.8M621.5 518.7V519.8M622.5 518.7V519.9M623.5 518.6V519.8M624.5 518.5V519.9M625.5 515.7V520.0M626.5 518.8V519.8M627.5 518.8V519.8M628.5 518.8V519.8M629.5 518.6V519.8M630.5 518.9V519.9M631.5 518.8V519.9M632.5 518.8V520.2M633.5 518.8V520.7M634.5 518.9V519.9M635.5 518.6V519.8M636.5 519.1V520.1M637.5 518.6V519.8M638.5 518.9V519.9M639.5 518.7V519.9M640.5 507.2V519.6M641.5 518.7V519.9M642.5 518.9V520.6M643.5 518.7V520.2M644.5 518.8V519.8M645.5 518.6V519.9M646.5 518.8V519.9M647.5 518.9V519.9M648.5 518.9V519.9M649.5 518.9V519.9M650.5 518.7V519.9M651.5 518.7V519.8M652.5 518.7V519.9M653.5 518.7V519.9M654.5 518.7V519.8M655.5 518.8V519.9M656.5 519.0V520.0M657.5 518.9V520.0M658.5 519.0V520.0M659.5 518.8V520.0M660.5 510.3V520.0M661.5 518.6V519.8M662.5 518.7V519.7M663.5 500.5V520.3M664.5 519.0V520.2M665.5 518.8V519.9M666.5 518.8V519.9M667.5 518.9V520.0M668.5 519.0V520.1M669.5 518.9V520.1M670.5 518.8V520.1M671.5 510.8V519.6M672.5 518.6V519.8M673.5 518.7V519.9M674.5 519.0V520.1M675.5 518.8V520.1M676.5 518.9V520.0M677.5 518.7V519.9M678.5 518.9V520.0M679.5 518.5V519.8M680.5 518.7V519.7M681.5 518.6V520.2M682.5 513.4V519.1M683.5 518.8V519.9M684.5 519.0V520.1M685.5 518.9V520.0M686.5 518.9V519.9M687.5 518.9V519.9M688.5 518.8V520.0M689.5 518.9V520.0M690.5 518.8V520.0M691.5 518.7V519.9M692.5 519.0V520.0M693.5 518.4V519.6M694.5 518.5V519.6M695.5 519.3V520.3M696.5 518.8V520.1M697.5 519.0V520.0M698.5 518.9V520.0M699.5 511.1V519.9M700.5 518.6V519.8M701.5 518.9V519.9M702.5 518.6V519.9M703.5 519.2V520.2M704.5 518.8V520.0M705.5 518.8V519.8M706.5 518.7V520.0M707.5 518.8V520.1M708.5 520.2V521.2M709.5 518.7V520.2M710.5 510.2V518.9M711.5 518.7V519.9M712.5 518.5V519.7M713.5 518.6V519.9M714.5 518.7V520.0M715.5 518.9V520.0M716.5 518.7V520.0M717.5 518.7V520.0M718.5 518.8V519.9M719.5 518.7V520.7M720.5 518.6V521.1M721.5 518.8V521.1M722.5 518.7V519.8M723.5 518.6V520.6M724.5 518.7V520.9M725.5 519.2V520.4M726.5 519.1V520.2M727.5 518.6V520.1M728.5 518.9V520.8M729.5 518.9V520.9M730.5 518.5V519.8M731.5 518.6V519.8M732.5 518.7V519.7M733.5 518.8V520.0M734.5 519.0V520.2M735.5 518.7V520.8M736.5 518.6V520.6M737.5 518.8V520.4M738.5 518.7V519.8M739.5 518.6V519.8M740.5 510.3V520.0M741.5 518.7V520.0M742.5 518.7V520.0M743.5 518.8V519.9M744.5 518.6V519.9M745.5 518.6V519.8M746.5 518.8V519.8M747.5 513.3V519.7M748.5 518.7V520.0M749.5 497.5V518.9M750.5 507.0V519.8M751.5 518.8V520.8M752.5 518.8V520.9M753.5 519.0V520.7M754.5 518.8V521.1M755.5 519.1V521.6M756.5 518.7V520.0M757.5 513.9V519.7M758.5 507.7V521.3M759.5 518.8V519.8M760.5 515.2V519.7M761.5 518.9V519.9M762.5 518.8V519.9M763.5 518.7V519.8M764.5 518.7V519.8M765.5 518.7V519.9M766.5 518.7V520.1M767.5 518.9V520.1M768.5 518.9V520.0M769.5 518.7V519.9M770.5 518.7V519.7M771.5 518.8V519.9M772.5 518.8V519.9M773.5 518.8V519.9M774.5 518.8V519.9M775.5 518.9V519.9M776.5 509.0V519.9M777.5 518.7V519.7M778.5 518.6V519.9M779.5 518.8V519.9M780.5 518.8V519.9M781.5 518.7V519.8M782.5 518.9V519.9M783.5 518.8V520.0M784.5 518.9V519.9M785.5 511.6V519.7M786.5 518.9V520.0M787.5 519.2V520.2M788.5 518.8V520.0M789.5 518.6V519.7M790.5 516.6V519.7M791.5 518.5V519.8M792.5 518.8V519.9M793.5 518.8V519.9M794.5 518.8V520.0M795.5 518.7V520.0M796.5 519.0V520.1M797.5 518.8V519.9M798.5 518.7V519.8M799.5 518.6V520.1M800.5 520.1V521.1M801.5 518.9V520.3M802.5 518.6V519.9M803.5 518.9V519.9M804.5 518.7V519.8M805.5 518.6V519.8M806.5 518.7V520.0M807.5 518.7V519.9M808.5 518.8V519.8M809.5 518.6V520.4M810.5 518.8V520.3M811.5 518.7V519.9M812.5 518.9V520.4M813.5 518.8V520.4M814.5 519.1V521.4M815.5 518.8V521.0M816.5 518.6V519.9M817.5 515.6V519.6M818.5 516.1V519.0M819.5 518.6V519.9M820.5 519.1V520.1M821.5 518.8V520.0M822.5 518.8V519.9M823.5 519.6V520.6M824.5 517.5V520.1M825.5 520.5V521.5M826.5 518.8V520.0M827.5 513.4V519.8M828.5 518.9V519.9M829.5 518.9V520.0M830.5 518.6V519.8M831.5 516.9V519.6M832.5 512.3V520.2M833.5 519.0V521.0M834.5 518.7V521.3M835.5 519.0V520.2M836.5 515.9V519.9M837.5 519.0V520.0M838.5 515.3V519.2M839.5 514.0V519.7M840.5 518.7V519.8M841.5 519.0V520.0M842.5 518.6V519.9M843.5 518.8V519.8M844.5 518.8V520.0M845.5 518.6V520.0M846.5 518.9V519.9M847.5 519.0V520.0M848.5 518.8V520.0M849.5 518.8V519.9M850.5 518.7V519.8M851.5 518.8V519.8M852.5 518.7V520.0M853.5 518.8V519.9M854.5 518.8V519.8M855.5 518.9V520.0M856.5 518.9V520.0M857.5 518.7V519.9M858.5 518.8V519.8M859.5 518.9V519.9M860.5 516.6V519.7M861.5 518.8V519.8M862.5 484.5V519.7M863.5 519.0V520.9M864.5 518.9V520.8M865.5 518.8V519.9M866.5 518.7V520.0M867.5 518.9V520.0M868.5 517.5V519.8M869.5 519.0V520.0M870.5 518.7V519.9M871.5 518.9V519.9M872.5 518.8V519.8M873.5 518.8V520.1M874.5 518.8V520.0M875.5 518.6V519.8M876.5 519.0V520.0M877.5 518.9V520.0M878.5 518.6V519.9M879.5 519.1V520.1M880.5 518.7V519.9M881.5 511.8V519.9M882.5 519.1V520.1M883.5 518.5V519.9M884.5 518.8V519.9M885.5 518.9V519.9M886.5 518.8V519.8M887.5 518.8V519.8M888.5 518.7V519.8M889.5 518.9V519.9M890.5 518.8V520.3M891.5 518.7V520.6M892.5 518.8V519.9M893.5 518.5V519.9M894.5 519.0V520.0M895.5 518.7V519.8M896.5 518.6V519.8M897.5 518.7V520.8M898.5 484.5V521.2M899.5 518.9V519.9M900.5 518.7V519.9M901.5 518.6V519.7M902.5 519.1V520.1M903.5 519.0V520.0M904.5 518.5V519.8M905.5 512.3V519.2M906.5 519.1V520.6M907.5 518.9V520.0M908.5 518.9V519.9M909.5 512.6V519.8M910.5 518.9V519.9M911.5 514.5V520.0M912.5 519.4V520.4M913.5 518.7V519.9M914.5 518.7V519.9M915.5 518.7V519.7M916.5 496.0V519.8M917.5 518.8V519.9M918.5 518.8V520.0M919.5 510.6V519.8M920.5 499.5V515.9M921.5 518.9V520.1M922.5 518.9V520.0M923.5 518.7V520.0M924.5 506.2V519.9M925.5 518.4V519.9M926.5 518.9V519.9M927.5 518.6V519.8M928.5 518.6V519.7M929.5 518.8V520.0M930.5 506.4V518.5M931.5 518.8V520.0M932.5 519.0V520.0M933.5 519.0V520.0M934.5 518.7V519.9M935.5 518.6V519.9M936.5 518.9V519.9M937.5 518.9V520.0M938.5 518.6V520.0M939.5 518.6V520.1M940.5 518.9V520.0M941.5 518.8V520.0M942.5 510.2V520.0M943.5 518.8V520.2M944.5 518.8V520.3M945.5 518.6V520.6M946.5 518.8V519.8M947.5 481.1V520.1M948.5 518.9V520.0M949.5 518.8V519.9M950.5 518.7V519.8M951.5 518.8V519.9M952.5 518.9V520.7M953.5 518.8V520.4M954.5 515.4V519.9M955.5 518.9V519.9M956.5 518.7V519.9M957.5 518.7V519.9M958.5 518.7V519.7M959.5 518.5V521.1M960.5 518.9V520.5M961.5 518.9V520.0M962.5 518.6V519.8M963.5 518.7V520.0M964.5 519.0V520.0M965.5 518.8V520.0M966.5 512.3V518.8M967.5 519.1V521.3M968.5 518.8V520.7M969.5 518.6V519.8M970.5 518.6V519.8M971.5 518.8V519.8M972.5 518.5V520.3M973.5 483.9V504.3M974.5 518.8V519.8M975.5 518.7V520.0M976.5 510.8V518.9M977.5 518.7V520.1M978.5 518.7V519.9M979.5 519.0V520.0M980.5 492.0V519.7M981.5 513.9V519.7M982.5 518.7V520.0M983.5 518.8V520.0M984.5 519.0V520.0M985.5 518.8V519.9M986.5 518.9V520.4M987.5 518.7V520.5M988.5 518.7V519.9M989.5 518.9V519.9M129 519.5H172" fill="none" stroke="#9400d3" stroke-width="1"/>
<path d="M304.5 303V411M303.5 405V520M305.5 411V520M369.5 303V520M370.5 411V520M490.5 303V411.5M489.5 411V520M491.5 411V520M586.5 303V520M587.5 411V520M675.5 303V520M674.5 407V520M881.5 303V520M880.5 411V520M489 411.5h3M303 405.5h2" fill="none" stroke="#9400d3" stroke-width="1"/>
<path d="M94.5 518.0L95.1 518.3L95.7 515.0L96.4 514.4L97.0 507.0L97.6 516.9L98.2 511.5L98.9 517.5L99.5 518.3L100.1 517.4L100.7 518.3L101.3 514.3L102.0 518.8L102.6 514.1L103.2 516.8L103.8 516.9L104.4 518.5L105.1 518.4L105.7 514.2L106.3 511.5L106.9 516.6L107.6 518.6L108.2 514.9L108.8 514.6L109.4 514.7L110.0 517.9L110.7 518.8L111.3 514.4L111.9 514.5L112.5 494.0L113.1 513.4L113.8 512.9L114.4 518.5L115.0 515.2L115.6 514.9L116.3 511.6L116.9 517.2L117.5 512.3L118.1 515.0L118.7 513.5L119.4 518.4L120.0 514.1L120.6 516.4L121.2 514.8L121.8 511.2L122.5 507.3L123.1 515.2L123.7 512.5L124.3 513.5L125.0 517.6L125.6 518.6L126.2 517.9L126.8 515.2L127.4 510.5L128.1 518.8L128.7 515.7L129.3 517.4M171.6 518.8L172.2 515.4L172.8 517.7L173.4 517.6L174.1 517.0L174.7 515.9L175.3 515.8L175.9 514.4L176.5 512.7L177.2 515.0L177.8 510.4L178.4 518.2L179.0 516.7L179.6 517.2L180.3 509.0L180.9 516.3L181.5 517.8L182.1 517.2L182.8 480.0L183.4 515.0L184.0 511.8L184.6 497.0L185.2 515.8L185.9 517.7L186.5 514.6L187.1 517.6L187.7 517.8L188.4 518.8L189.0 516.3L189.6 513.5L190.2 516.4L190.8 515.7L191.5 510.9L192.1 514.4L192.7 478.4L193.3 517.1L193.9 515.4L194.6 517.1L195.2 509.9L195.8 516.5L196.4 513.5L197.1 517.0L197.7 514.9L198.3 516.2L198.9 507.1L199.5 507.4L200.2 516.6L200.8 514.7L201.4 515.1L202.0 507.3L202.6 513.7L203.3 513.2L203.9 518.6L204.5 514.3L205.1 517.3L205.8 518.7L206.4 514.8L207.0 512.9L207.6 512.3L208.2 517.9L208.9 517.4L209.5 512.3L210.1 515.0L210.7 515.3L211.3 516.6L212.0 518.7L212.6 515.5L213.2 517.1L213.8 505.4L214.5 515.1L215.1 517.4L215.7 518.7L216.3 518.4L216.9 515.7L217.6 516.8L218.2 518.1L218.8 511.2L219.4 513.4L220.0 517.7L220.7 515.6L221.3 515.4L221.9 514.6L222.5 515.2L223.2 514.9L223.8 514.0L224.4 516.0L225.0 515.2L225.6 514.7L226.3 515.6L226.9 515.3L227.5 514.2L228.1 515.2L228.8 512.5L229.4 516.1L230.0 514.6L230.6 514.5L231.2 516.9L231.9 517.2L232.5 513.9L233.1 516.2L233.7 519.0L234.3 515.2L235.0 518.8L235.6 512.2L236.2 514.7L236.8 511.3L237.5 514.8L238.1 518.0L238.7 516.2L239.3 515.6L239.9 518.7L240.6 518.7L241.2 517.1L241.8 508.6L242.4 508.5L243.0 513.8L243.7 517.1L244.3 515.0L244.9 512.0L245.5 513.8L246.2 506.0L246.8 515.9L247.4 515.4L248.0 518.5L248.6 512.2L249.3 507.2L249.9 507.1L250.5 515.1L251.1 516.0L251.7 513.0L252.4 517.6L253.0 519.0L253.6 518.9L254.2 515.1L254.9 518.4L255.5 480.0L256.1 518.5L256.7 516.4L257.3 518.6L258.0 514.9L258.6 518.5L259.2 517.5L259.8 518.3L260.4 514.3L261.1 516.0L261.7 516.1L262.3 516.8L262.9 516.1L263.6 514.6L264.2 515.2L264.8 515.0L265.4 518.9L266.0 514.9L266.7 507.8L267.3 512.7L267.9 510.7L268.5 515.9L269.1 515.3L269.8 514.2L270.4 517.0L271.0 517.9L271.6 506.1L272.3 514.7L272.9 511.3L273.5 516.0L274.1 516.4L274.7 518.2L275.4 515.9L276.0 514.5L276.6 514.6L277.2 512.2L277.9 510.5L278.5 508.9L279.1 515.7L279.7 514.8L280.3 510.7L281.0 515.9L281.6 515.9L282.2 515.0L282.8 518.9L283.4 511.2L284.1 512.2L284.7 513.4L285.3 516.9L285.9 518.5L286.6 517.4L287.2 518.9L287.8 517.9L288.4 515.1L289.0 513.5L289.7 518.2L290.3 516.2L290.9 514.6L291.5 517.2L292.1 516.0L292.8 508.5L293.4 511.1L294.0 517.2L294.6 513.7L295.3 517.2L295.9 515.3L296.5 517.2L297.1 516.7L297.7 518.8L298.4 513.2L299.0 518.4L299.6 513.2L300.2 516.3L300.8 518.7L301.5 516.7L302.1 512.4L302.7 516.3L303.3 514.4L304.0 518.5L304.6 512.6L305.2 513.1L305.8 516.8L306.4 518.6L307.1 512.7L307.7 518.4L308.3 491.0L308.9 510.7L309.5 511.0L310.2 506.0L310.8 515.4L311.4 517.2L312.0 510.4L312.7 516.8L313.3 511.3L313.9 514.5L314.5 510.9L315.1 516.7L315.8 514.4L316.4 514.2L317.0 518.0L317.6 518.0L318.2 467.5L318.9 470.0L319.5 513.7L320.1 511.3L320.7 516.8L321.4 514.2L322.0 511.7L322.6 516.2L323.2 515.7L323.8 516.8L324.5 514.7L325.1 514.9L325.7 517.7L326.3 514.2L327.0 513.7L327.6 514.8L328.2 516.5L328.8 515.1L329.4 512.7L330.1 516.2L330.7 514.7L331.3 510.2L331.9 518.1L332.5 513.7L333.2 508.5L333.8 516.7L334.4 509.5L335.0 515.6L335.7 518.1L336.3 508.7L336.9 518.0L337.5 514.4L338.1 517.9L338.8 517.3L339.4 513.4L340.0 515.5L340.6 509.2L341.2 516.2L341.9 515.6L342.5 494.0L343.1 518.9L343.7 518.2L344.4 514.4L345.0 515.0L345.6 516.0L346.2 509.6L346.8 517.8L347.5 516.1L348.1 514.8L348.7 511.7L349.3 516.8L349.9 513.5L350.6 515.6L351.2 507.7L351.8 518.3L352.4 512.3L353.1 516.6L353.7 518.6L354.3 507.3L354.9 517.4L355.5 518.1L356.2 513.0L356.8 517.2L357.4 517.9L358.0 512.1L358.6 515.6L359.3 512.5L359.9 513.1L360.5 518.5L361.1 513.3L361.8 511.7L362.4 517.6L363.0 515.7L363.6 510.3L364.2 513.7L364.9 515.0L365.5 514.4L366.1 515.9L366.7 514.0L367.4 518.3L368.0 514.8L368.6 513.1L369.2 517.3L369.8 516.5L370.5 514.4L371.1 517.8L371.7 512.1L372.3 515.3L372.9 516.9L373.6 514.5L374.2 518.5L374.8 513.0L375.4 509.4L376.1 509.3L376.7 515.4L377.3 509.8L377.9 517.2L378.5 516.4L379.2 512.3L379.8 512.6L380.4 467.5L381.0 492.0L381.6 514.4L382.3 517.6L382.9 515.6L383.5 515.3L384.1 515.1L384.8 510.8L385.4 518.3L386.0 512.4L386.6 518.1L387.2 515.1L387.9 509.0L388.5 514.7L389.1 517.4L389.7 511.7L390.3 517.3L391.0 511.9L391.6 515.9L392.2 505.5L392.8 514.2L393.5 515.4L394.1 517.8L394.7 517.2L395.3 518.4L395.9 517.4L396.6 517.3L397.2 514.9L397.8 518.3L398.4 515.4L399.0 508.3L399.7 516.8L400.3 515.2L400.9 512.3L401.5 516.0L402.2 515.2L402.8 518.1L403.4 517.1L404.0 506.4L404.6 516.7L405.3 507.7L405.9 518.5L406.5 515.0L407.1 516.7L407.8 514.8L408.4 518.0L409.0 517.3L409.6 514.2L410.2 516.2L410.9 515.6L411.5 518.6L412.1 515.1L412.7 508.9L413.3 518.0L414.0 514.2L414.6 517.2L415.2 511.7L415.8 510.4L416.5 504.2L417.1 516.3L417.7 518.1L418.3 516.4L418.9 514.8L419.6 512.7L420.2 514.7L420.8 514.4L421.4 514.5L422.0 518.3L422.7 515.1L423.3 513.0L423.9 516.5L424.5 513.8L425.2 512.0L425.8 518.2L426.4 508.0L427.0 515.4L427.6 505.6L428.3 518.8L428.9 514.0L429.5 510.4L430.1 514.2L430.7 513.8L431.4 517.0L432.0 516.5L432.6 515.4L433.2 480.5L433.9 514.3L434.5 514.5L435.1 518.1L435.7 515.6L436.3 514.4L437.0 517.3L437.6 517.3L438.2 509.4L438.8 519.0L439.4 515.5L440.1 516.0L440.7 517.1L441.3 517.6L441.9 515.8L442.6 508.9L443.2 515.2L443.8 480.5L444.4 514.5L445.0 513.6L445.7 511.5L446.3 516.6L446.9 514.7L447.5 516.4L448.1 515.9L448.8 517.4L449.4 516.1L450.0 517.8L450.6 517.1L451.3 514.6L451.9 517.7L452.5 514.1L453.1 514.9L453.7 513.7L454.4 515.5L455.0 514.5L455.6 507.7L456.2 518.1L456.9 514.9L457.5 518.6L458.1 515.4L458.7 513.4L459.3 518.9L460.0 514.5L460.6 516.1L461.2 514.3L461.8 514.3L462.4 512.4L463.1 514.2L463.7 516.0L464.3 509.4L464.9 518.8L465.6 515.2L466.2 516.8L466.8 516.1L467.4 517.1L468.0 514.9L468.7 513.9L469.3 506.9L469.9 510.6L470.5 515.8L471.1 515.5L471.8 514.4L472.4 514.5L473.0 517.5L473.6 517.7L474.3 515.2L474.9 515.1L475.5 511.3L476.1 509.1L476.7 517.7L477.4 518.6L478.0 508.4L478.6 514.6L479.2 517.0L479.8 518.6L480.5 515.1L481.1 516.9L481.7 517.8L482.3 509.9L483.0 518.0L483.6 517.7L484.2 514.6L484.8 514.2L485.4 516.3L486.1 515.4L486.7 514.9L487.3 514.4L487.9 518.4L488.5 518.3L489.2 518.7L489.8 516.4L490.4 518.4L491.0 515.9L491.7 506.8L492.3 518.8L492.9 516.7L493.5 515.5L494.1 511.1L494.8 514.6L495.4 518.2L496.0 516.7L496.6 517.8L497.2 517.9L497.9 516.1L498.5 515.3L499.1 516.4L499.7 507.0L500.4 515.7L501.0 517.9L501.6 515.0L502.2 508.2L502.8 514.6L503.5 512.4L504.1 515.3L504.7 518.2L505.3 517.2L506.0 506.4L506.6 517.2L507.2 516.2L507.8 517.6L508.4 516.3L509.1 515.7L509.7 514.4L510.3 516.4L510.9 515.8L511.5 511.1L512.2 512.4L512.8 518.0L513.4 518.4L514.0 515.8L514.7 514.5L515.3 515.7L515.9 512.5L516.5 517.5L517.1 519.0L517.8 514.7L518.4 513.4L519.0 509.8L519.6 514.8L520.2 517.4L520.9 517.1L521.5 518.7L522.1 509.9L522.7 518.3L523.4 515.8L524.0 514.2L524.6 516.0L525.2 518.2L525.8 516.4L526.5 513.4L527.1 518.3L527.7 509.9L528.3 516.3L528.9 514.5L529.6 517.9L530.2 517.8L530.8 513.8L531.4 517.4L532.1 517.9L532.7 515.0L533.3 516.6L533.9 515.4L534.5 512.2L535.2 517.5L535.8 512.5L536.4 517.4L537.0 515.6L537.6 514.8L538.3 514.3L538.9 516.6L539.5 518.5L540.1 515.6L540.8 518.2L541.4 516.9L542.0 518.6L542.6 516.6L543.2 518.6L543.9 514.2L544.5 517.7L545.1 517.9L545.7 515.7L546.4 510.6L547.0 509.8L547.6 518.1L548.2 516.6L548.8 517.6L549.5 515.1L550.1 518.3L550.7 518.4L551.3 515.7L551.9 506.1L552.6 516.2L553.2 515.5L553.8 515.7L554.4 508.4L555.1 510.3L555.7 507.1L556.3 518.5L556.9 514.2L557.5 514.8L558.2 517.5L558.8 491.0L559.4 516.2L560.0 515.9L560.6 511.4L561.3 517.4L561.9 516.6L562.5 513.1L563.1 517.0L563.8 518.1L564.4 517.7L565.0 515.6L565.6 509.0L566.2 494.0L566.9 515.1L567.5 511.8L568.1 517.5L568.7 515.4L569.3 510.3L570.0 515.8L570.6 513.9L571.2 518.8L571.8 516.5L572.5 514.4L573.1 517.9L573.7 518.5L574.3 515.5L574.9 511.4L575.6 514.7L576.2 514.8L576.8 512.7L577.4 508.0L578.0 517.4L578.7 514.7L579.3 518.1L579.9 510.4L580.5 517.1L581.2 514.3L581.8 519.0L582.4 515.3L583.0 515.7L583.6 511.4L584.3 507.5L584.9 517.9L585.5 514.7L586.1 515.9L586.8 514.3L587.4 517.0L588.0 509.6L588.6 510.4L589.2 518.8L589.9 508.7L590.5 511.7L591.1 516.0L591.7 515.0L592.3 517.1L593.0 512.6L593.6 511.5L594.2 517.1L594.8 516.9L595.5 517.6L596.1 516.5L596.7 518.2L597.3 516.6L597.9 509.0L598.6 517.4L599.2 513.0L599.8 511.2L600.4 511.9L601.0 517.0L601.7 517.3L602.3 518.2L602.9 515.8L603.5 510.8L604.2 515.0L604.8 510.9L605.4 515.7L606.0 516.6L606.6 511.1L607.3 517.8L607.9 518.3L608.5 518.2L609.1 517.5L609.7 518.4L610.4 511.7L611.0 516.4L611.6 515.3L612.2 517.9L612.9 515.0L613.5 515.4L614.1 516.8L614.7 515.1L615.3 518.5L616.0 518.8L616.6 514.3L617.2 517.7L617.8 518.2L618.4 509.8L619.1 515.0L619.7 516.4L620.3 518.0L620.9 516.2L621.6 518.7L622.2 515.9L622.8 514.6L623.4 514.8L624.0 516.9L624.7 517.7L625.3 515.1L625.9 510.0L626.5 516.1L627.1 518.3L627.8 516.8L628.4 511.4L629.0 515.4L629.6 517.8L630.3 512.6L630.9 517.2L631.5 508.5L632.1 514.8L632.7 518.0L633.4 515.5L634.0 517.1L634.6 518.3L635.2 516.7L635.9 510.2L636.5 511.1L637.1 516.7L637.7 516.1L638.3 507.9L639.0 516.1L639.6 518.4L640.2 517.6L640.8 515.2L641.4 515.1L642.1 515.8L642.7 513.8L643.3 512.2L643.9 515.3L644.6 516.7L645.2 516.9L645.8 510.7L646.4 518.8L647.0 516.3L647.7 518.0L648.3 517.5L648.9 517.9L649.5 515.9L650.1 509.8L650.8 518.3L651.4 505.8L652.0 517.3L652.6 518.6L653.3 514.0L653.9 515.2L654.5 517.1L655.1 518.5L655.7 496.0L656.4 512.3L657.0 514.5L657.6 509.8L658.2 516.9L658.8 515.3L659.5 510.7L660.1 517.0L660.7 516.3L661.3 509.0L662.0 518.6L662.6 514.8L663.2 518.9L663.8 516.0L664.4 512.3L665.1 508.8L665.7 512.4L666.3 516.1L666.9 518.4L667.5 517.6L668.2 517.5L668.8 513.2L669.4 509.3L670.0 518.1L670.7 516.6L671.3 518.4L671.9 517.6L672.5 517.2L673.1 517.9L673.8 517.5L674.4 515.0L675.0 514.8L675.6 516.8L676.2 518.0L676.9 512.6L677.5 517.0L678.1 510.0L678.7 518.8L679.4 508.0L680.0 518.7L680.6 517.6L681.2 516.6L681.8 517.5L682.5 518.1L683.1 518.3L683.7 512.6L684.3 518.8L685.0 518.5L685.6 517.0L686.2 512.3L686.8 516.2L687.4 517.7L688.1 518.1L688.7 517.7L689.3 515.6L689.9 515.2L690.5 513.0L691.2 515.5L691.8 517.0L692.4 517.7L693.0 514.7L693.7 506.8L694.3 518.0L694.9 515.9L695.5 512.5L696.1 517.8L696.8 518.1L697.4 513.3L698.0 516.7L698.6 511.4L699.2 517.1L699.9 517.2L700.5 515.4L701.1 517.1L701.7 505.2L702.4 515.3L703.0 516.8L703.6 517.8L704.2 515.6L704.8 515.0L705.5 517.7L706.1 511.4L706.7 515.0L707.3 512.9L707.9 518.0L708.6 514.7L709.2 509.8L709.8 517.7L710.4 518.9L711.1 511.2L711.7 519.0L712.3 517.2L712.9 515.6L713.5 511.4L714.2 517.2L714.8 513.7L715.4 515.6L716.0 515.7L716.6 511.6L717.3 510.4L717.9 515.3L718.5 516.1L719.1 515.1L719.8 517.4L720.4 512.5L721.0 514.5L721.6 515.8L722.2 515.3L722.9 516.8L723.5 510.0L724.1 517.8L724.7 512.2L725.4 517.4L726.0 514.2L726.6 515.2L727.2 518.2L727.8 517.6L728.5 516.7L729.1 514.4L729.7 514.9L730.3 512.6L730.9 517.1L731.6 508.3L732.2 518.0L732.8 517.1L733.4 515.0L734.1 514.4L734.7 516.2L735.3 518.9L735.9 517.7L736.5 518.7L737.2 517.2L737.8 508.8L738.4 508.5L739.0 514.3L739.6 518.8L740.3 505.8L740.9 510.2L741.5 517.6L742.1 516.0L742.8 516.4L743.4 516.3L744.0 516.3L744.6 518.9L745.2 516.3L745.9 514.3L746.5 516.7L747.1 516.4L747.7 509.2L748.3 518.7L749.0 518.9L749.6 512.6L750.2 515.6L750.8 508.2L751.5 515.3L752.1 517.8L752.7 517.1L753.3 508.4L753.9 511.1L754.6 508.5L755.2 516.4L755.8 517.5L756.4 517.5L757.0 509.5L757.7 494.0L758.3 505.0L758.9 508.3L759.5 518.5L760.2 515.3L760.8 515.0L761.4 517.4L762.0 507.4L762.6 514.9L763.3 515.4L763.9 514.9L764.5 517.8L765.1 507.3L765.8 513.0L766.4 516.8L767.0 512.8L767.6 515.9L768.2 511.9L768.9 514.8L769.5 514.4L770.1 515.2L770.7 515.2L771.3 512.7L772.0 517.6L772.6 513.1L773.2 515.9L773.8 517.2L774.5 514.5L775.1 516.3L775.7 515.4L776.3 508.7L776.9 516.7L777.6 515.0L778.2 510.0L778.8 514.6L779.4 517.5L780.0 517.6L780.7 516.8L781.3 496.0L781.9 516.7L782.5 518.3L783.2 515.9L783.8 517.0L784.4 518.9L785.0 515.1L785.6 508.9L786.3 508.6L786.9 518.6L787.5 517.9L788.1 517.0L788.7 514.7L789.4 516.0L790.0 513.1L790.6 516.9L791.2 517.0L791.9 508.6L792.5 516.4L793.1 513.3L793.7 514.3L794.3 515.8L795.0 515.2L795.6 517.9L796.2 516.9L796.8 513.9L797.4 515.7L798.1 514.6L798.7 511.5L799.3 517.0L799.9 515.5L800.6 517.7L801.2 514.1L801.8 516.8L802.4 517.3L803.0 516.1L803.7 517.1L804.3 518.1L804.9 515.8L805.5 513.5L806.1 508.7L806.8 515.2L807.4 513.1L808.0 515.5L808.6 515.3L809.3 515.1L809.9 517.2L810.5 519.0L811.1 518.9L811.7 517.1L812.4 510.5L813.0 515.4L813.6 518.8L814.2 518.0L814.9 511.4L815.5 515.9L816.1 515.5L816.7 518.0L817.3 516.1L818.0 516.6L818.6 517.3L819.2 472.0L819.8 513.9L820.4 506.0L821.1 517.6L821.7 515.7L822.3 517.8L822.9 511.5L823.6 518.0L824.2 509.5L824.8 518.9L825.4 515.7L826.0 514.8L826.7 510.4L827.3 515.5L827.9 514.6L828.5 516.3L829.1 509.3L829.8 518.5L830.4 510.8L831.0 516.4L831.6 517.3L832.3 510.7L832.9 512.9L833.5 514.9L834.1 518.2L834.7 518.5L835.4 510.9L836.0 516.7L836.6 517.4L837.2 514.4L837.8 514.4L838.5 518.0L839.1 505.4L839.7 515.4L840.3 518.5L841.0 518.5L841.6 510.2L842.2 509.0L842.8 515.1L843.4 514.2L844.1 508.2L844.7 517.0L845.3 514.5L845.9 518.6L846.5 515.5L847.2 518.9L847.8 516.9L848.4 512.3L849.0 513.8L849.7 511.7L850.3 515.8L850.9 518.4L851.5 513.3L852.1 503.8L852.8 509.5L853.4 510.1L854.0 518.4L854.6 513.9L855.2 515.9L855.9 514.7L856.5 516.5L857.1 515.1L857.7 518.4L858.4 518.8L859.0 516.7L859.6 515.7L860.2 511.7L860.8 516.3L861.5 510.1L862.1 515.1L862.7 515.5L863.3 515.4L864.0 515.3L864.6 516.3L865.2 515.9L865.8 516.2L866.4 515.4L867.1 518.4L867.7 517.0L868.3 516.3L868.9 517.1L869.5 517.2L870.2 513.2L870.8 516.8L871.4 514.7L872.0 510.9L872.7 491.5L873.3 510.9L873.9 515.2L874.5 507.9L875.1 506.8L875.8 515.6L876.4 516.4L877.0 515.1L877.6 516.7L878.2 514.5L878.9 518.5L879.5 507.6L880.1 514.2L880.7 517.4L881.4 510.3L882.0 514.5L882.6 470.6L883.2 492.0L883.8 516.0L884.5 514.7L885.1 510.3L885.7 512.8L886.3 512.1L886.9 513.3L887.6 518.0L888.2 517.1L888.8 517.1L889.4 517.1L890.1 514.7L890.7 506.5L891.3 515.7L891.9 511.8L892.5 515.6L893.2 514.2L893.8 515.7L894.4 519.0L895.0 514.9L895.6 515.0L896.3 514.9L896.9 517.3L897.5 515.2L898.1 514.8L898.8 516.6L899.4 516.5L900.0 516.2L900.6 517.8L901.2 515.4L901.9 518.8L902.5 517.8L903.1 518.4L903.7 517.3L904.4 513.6L905.0 514.3L905.6 514.5L906.2 509.8L906.8 518.1L907.5 511.4L908.1 515.8L908.7 518.1L909.3 515.2L909.9 516.7L910.6 515.5L911.2 515.8L911.8 510.3L912.4 509.9L913.1 518.5L913.7 515.2L914.3 518.3L914.9 515.1L915.5 518.4L916.2 516.4L916.8 517.1L917.4 508.1L918.0 514.6L918.6 516.4L919.3 515.0L919.9 510.3L920.5 518.5L921.1 515.2L921.8 511.4L922.4 515.7L923.0 510.8L923.6 515.1L924.2 517.5L924.9 515.4L925.5 517.3L926.1 517.1L926.7 515.4L927.3 507.7L928.0 513.2L928.6 518.8L929.2 516.5L929.8 516.4L930.5 513.4L931.1 518.3L931.7 515.9L932.3 515.7L932.9 514.6L933.6 518.3L934.2 508.2L934.8 515.4L935.4 480.5L936.0 495.0L936.7 515.2L937.3 514.8L937.9 516.8L938.5 515.1L939.2 505.4L939.8 516.7L940.4 518.3L941.0 515.6L941.6 517.2L942.3 515.1L942.9 513.1L943.5 518.6L944.1 515.0L944.8 512.5L945.4 494.0L946.0 515.5L946.6 516.9L947.2 517.0L947.9 515.0L948.5 516.6L949.1 518.7L949.7 517.6L950.3 516.3L951.0 517.6L951.6 515.7L952.2 516.7L952.8 512.4L953.5 518.1L954.1 514.8L954.7 515.1L955.3 508.7L955.9 515.3L956.6 510.6L957.2 512.7L957.8 514.4L958.4 508.6L959.0 514.3L959.7 518.5L960.3 514.2L960.9 511.6L961.5 517.7L962.2 517.3L962.8 514.5L963.4 513.8L964.0 517.0L964.6 517.8L965.3 509.0L965.9 518.5L966.5 518.7L967.1 514.0L967.7 515.2L968.4 515.2L969.0 514.6L969.6 517.7L970.2 514.3L970.9 515.8L971.5 517.0L972.1 513.8L972.7 516.4L973.3 518.3L974.0 512.2L974.6 514.1L975.2 509.0L975.8 512.5L976.4 516.1L977.1 518.9L977.7 517.9L978.3 511.6L978.9 511.8L979.6 494.0L980.2 517.1L980.8 517.4L981.4 512.8L982.0 507.0L982.7 510.1L983.3 516.7L983.9 515.7L984.5 512.1L985.1 514.7L985.8 512.8L986.4 506.4L987.0 517.1L987.6 516.9L988.3 509.0L988.9 512.7L989.5 516.0" fill="none" stroke="#009e73" stroke-width="1" stroke-linejoin="miter" stroke-miterlimit="2"/><path d="M94.5 517.5V518.7M95.5 514.5V518.8M96.5 506.5V515.2M97.5 516.4V517.4M98.5 511.0V518.2M99.5 517.8V518.8M100.5 516.9V518.8M101.5 513.8V519.3M102.5 513.6V519.0M103.5 516.3V517.9M104.5 518.0V519.0M105.5 513.7V518.9M106.5 511.0V517.3M107.5 518.1V519.1M108.5 514.1V516.4M109.5 514.2V518.2M110.5 517.4V519.3M111.5 513.9V516.9M112.5 493.5V511.8M113.5 512.4V515.5M114.5 518.0V519.0M115.5 514.4V515.8M116.5 511.1V517.7M117.5 511.8V516.7M118.5 513.0V516.0M119.5 513.6V518.9M120.5 515.9V516.9M121.5 510.7V515.9M122.5 506.8V514.5M123.5 512.0V515.7M124.5 513.0V518.2M125.5 518.1V519.1M126.5 514.7V518.6M127.5 510.0V518.5M128.5 515.2V519.3M129.5 516.9V517.9M171.5 518.3V519.3M172.5 514.9V518.2M173.5 517.1V518.1M174.5 515.4V517.5M175.5 513.9V516.3M176.5 512.2V514.9M177.5 509.9V515.5M178.5 517.7V518.7M179.5 516.2V517.7M180.5 508.5V517.0M181.5 517.3V518.3M182.5 479.5V517.8M183.5 514.5V515.5M184.5 496.5V512.3M185.5 515.3V518.2M186.5 514.1V517.6M187.5 517.1V518.7M188.5 515.8V519.3M189.5 513.0V516.7M190.5 515.2V516.9M191.5 510.4V515.0M192.5 477.9V514.9M193.5 514.9V517.6M194.5 516.6V517.6M195.5 509.4V517.0M196.5 513.0V517.2M197.5 514.4V517.5M198.5 506.6V516.7M199.5 506.9V514.7M200.5 514.2V517.1M201.5 514.6V515.6M202.5 506.8V514.2M203.5 512.7V519.1M204.5 513.8V518.3M205.5 516.8V519.2M206.5 512.4V517.6M207.5 511.8V516.3M208.5 516.9V518.4M209.5 511.8V516.7M210.5 514.5V516.3M211.5 516.1V519.2M212.5 515.0V519.0M213.5 504.9V517.6M214.5 514.6V517.6M215.5 516.9V519.2M216.5 515.2V519.0M217.5 516.3V518.2M218.5 510.7V518.6M219.5 512.9V517.9M220.5 515.1V518.2M221.5 514.1V516.0M222.5 514.7V515.7M223.5 513.5V515.4M224.5 515.5V516.5M225.5 514.2V515.8M226.5 514.8V516.1M227.5 513.7V515.6M228.5 512.0V515.7M229.5 514.1V516.6M230.5 514.0V516.5M231.5 516.4V517.7M232.5 513.4V516.9M233.5 515.7V519.5M234.5 514.7V519.3M235.5 511.7V518.9M236.5 510.8V515.2M237.5 514.3V518.2M238.5 515.7V518.5M239.5 515.1V519.2M240.5 518.2V519.2M241.5 508.1V518.1M242.5 508.0V513.9M243.5 513.3V517.6M244.5 511.5V516.5M245.5 513.3V514.3M246.5 505.5V516.4M247.5 514.9V518.9M248.5 511.7V519.0M249.5 506.6V509.8M250.5 514.6V516.3M251.5 512.5V516.5M252.5 517.1V519.5M253.5 518.4V519.5M254.5 514.6V518.9M255.5 479.5V513.0M256.5 515.9V519.0M257.5 514.4V519.1M258.5 518.0V519.0M259.5 517.0V518.8M260.5 513.8V517.7M261.5 515.5V517.0M262.5 515.6V517.3M263.5 514.1V516.4M264.5 514.5V516.7M265.5 518.4V519.4M266.5 507.3V515.7M267.5 510.2V513.2M268.5 515.4V516.4M269.5 513.7V516.0M270.5 516.5V518.4M271.5 505.6V518.4M272.5 510.8V515.2M273.5 515.5V516.8M274.5 515.9V518.7M275.5 514.0V517.8M276.5 514.1V515.1M277.5 510.0V513.6M278.5 508.4V515.2M279.5 514.3V516.2M280.5 510.2V516.4M281.5 515.4V516.4M282.5 514.5V519.4M283.5 510.7V517.2M284.5 511.7V515.6M285.5 516.4V519.0M286.5 516.9V518.9M287.5 517.4V519.4M288.5 514.6V517.5M289.5 513.0V518.7M290.5 514.1V517.6M291.5 516.7V517.7M292.5 508.0V516.8M293.5 510.6V517.6M294.5 513.2V517.7M295.5 514.8V517.7M296.5 516.7V517.7M297.5 516.2V519.3M298.5 512.7V518.9M299.5 512.7V518.8M300.5 515.8V519.2M301.5 516.2V518.7M302.5 511.9V516.8M303.5 513.9V519.0M304.5 512.1V518.5M305.5 512.6V517.8M306.5 518.1V519.1M307.5 512.2V518.9M308.5 490.5V511.2M309.5 510.5V511.5M310.5 505.5V516.5M311.5 516.7V517.7M312.5 509.9V517.3M313.5 510.8V515.0M314.5 510.4V515.9M315.5 513.9V517.2M316.5 513.7V518.4M317.5 517.5V518.5M318.5 467.0V488.3M319.5 513.2V514.2M320.5 510.8V517.3M321.5 511.2V516.2M322.5 515.7V516.7M323.5 515.2V517.3M324.5 514.2V516.8M325.5 514.4V518.2M326.5 513.2V516.5M327.5 514.3V516.4M328.5 514.6V517.0M329.5 512.2V516.4M330.5 514.2V516.7M331.5 509.7V518.6M332.5 513.2V518.1M333.5 508.0V517.2M334.5 509.0V515.8M335.5 515.1V518.6M336.5 508.2V518.5M337.5 513.9V517.9M338.5 516.8V518.4M339.5 512.9V516.3M340.5 508.7V516.0M341.5 515.1V516.7M342.5 493.5V515.0M343.5 517.7V519.4M344.5 513.9V517.1M345.5 515.5V516.5M346.5 509.1V518.3M347.5 515.6V517.8M348.5 511.2V515.5M349.5 513.0V517.3M350.5 515.1V516.1M351.5 507.2V518.8M352.5 511.8V517.0M353.5 516.1V519.1M354.5 506.8V518.0M355.5 517.6V518.6M356.5 512.5V517.9M357.5 517.4V518.4M358.5 511.6V516.1M359.5 512.0V514.5M360.5 518.0V519.0M361.5 511.2V514.9M362.5 517.1V518.1M363.5 509.8V516.2M364.5 513.2V515.5M365.5 513.9V516.1M366.5 513.5V516.4M367.5 514.3V518.8M368.5 512.6V516.3M369.5 516.0V517.8M370.5 513.9V517.9M371.5 511.6V518.3M372.5 514.8V517.4M373.5 514.0V517.8M374.5 512.5V519.0M375.5 508.9V512.4M376.5 508.8V515.9M377.5 509.3V517.7M378.5 515.9V517.6M379.5 511.8V513.9M380.5 467.0V497.2M381.5 491.5V516.7M382.5 515.1V518.1M383.5 514.8V516.0M384.5 510.3V515.6M385.5 511.9V518.8M386.5 517.6V518.6M387.5 508.5V516.7M388.5 514.2V517.5M389.5 511.2V517.9M390.5 511.4V517.8M391.5 515.4V516.4M392.5 505.0V515.0M393.5 514.9V518.0M394.5 516.7V518.3M395.5 516.9V518.9M396.5 516.8V517.9M397.5 514.4V518.8M398.5 514.9V517.9M399.5 507.8V517.3M400.5 511.8V516.5M401.5 515.5V516.5M402.5 514.7V518.6M403.5 516.6V518.2M404.5 505.9V517.2M405.5 507.2V519.0M406.5 514.5V518.4M407.5 514.3V517.2M408.5 516.8V518.5M409.5 513.7V517.7M410.5 515.1V516.7M411.5 518.1V519.1M412.5 508.4V516.1M413.5 513.7V518.5M414.5 516.7V517.7M415.5 509.9V514.1M416.5 503.7V515.4M417.5 515.8V518.6M418.5 514.3V517.8M419.5 512.2V515.1M420.5 513.9V515.2M421.5 514.0V518.5M422.5 514.6V518.8M423.5 512.5V517.0M424.5 513.3V516.6M425.5 511.5V518.7M426.5 507.5V515.7M427.5 505.1V515.9M428.5 513.5V519.3M429.5 509.9V514.0M430.5 513.3V515.6M431.5 516.0V517.5M432.5 514.9V517.0M433.5 480.0V514.9M434.5 514.0V518.0M435.5 515.1V518.6M436.5 513.9V517.8M437.5 516.8V517.8M438.5 508.9V519.5M439.5 515.0V518.5M440.5 515.5V517.8M441.5 515.3V518.1M442.5 508.4V515.6M443.5 480.0V515.7M444.5 514.0V515.0M445.5 511.0V514.8M446.5 514.2V517.1M447.5 515.9V516.9M448.5 515.4V517.9M449.5 515.6V518.2M450.5 516.6V518.3M451.5 514.1V518.2M452.5 513.6V517.5M453.5 513.2V515.4M454.5 514.0V516.0M455.5 507.2V514.8M456.5 514.4V518.6M457.5 518.1V519.1M458.5 512.9V516.4M459.5 514.0V519.4M460.5 515.6V516.6M461.5 513.8V515.4M462.5 511.9V514.5M463.5 513.7V516.5M464.5 508.9V519.3M465.5 514.7V518.9M466.5 515.6V517.3M467.5 516.6V517.6M468.5 513.4V515.5M469.5 506.4V511.9M470.5 515.3V516.3M471.5 513.9V516.1M472.5 514.0V517.9M473.5 517.0V518.2M474.5 514.6V516.7M475.5 510.8V514.8M476.5 508.6V518.6M477.5 507.9V519.1M478.5 514.1V516.6M479.5 516.5V519.1M480.5 514.6V518.2M481.5 516.4V518.3M482.5 509.4V518.5M483.5 517.2V518.5M484.5 513.7V516.1M485.5 515.8V516.8M486.5 514.4V515.9M487.5 513.9V518.9M488.5 517.8V519.1M489.5 515.9V519.2M490.5 517.9V518.9M491.5 506.3V516.5M492.5 516.2V519.3M493.5 515.0V517.0M494.5 510.6V516.5M495.5 517.7V518.7M496.5 516.2V518.4M497.5 515.6V518.4M498.5 514.8V516.7M499.5 506.5V516.9M500.5 515.2V518.4M501.5 514.5V518.3M502.5 507.7V515.1M503.5 511.9V515.4M504.5 514.8V518.7M505.5 505.9V518.3M506.5 516.7V517.7M507.5 515.7V518.1M508.5 515.8V517.7M509.5 513.9V516.3M510.5 515.3V516.9M511.5 510.6V515.7M512.5 511.9V518.7M513.5 517.9V518.9M514.5 514.0V516.4M515.5 512.0V516.2M516.5 517.0V519.1M517.5 514.2V519.5M518.5 512.9V514.7M519.5 509.3V516.9M520.5 516.6V517.9M521.5 518.2V519.2M522.5 509.4V518.8M523.5 513.7V517.7M524.5 515.5V517.9M525.5 515.9V518.7M526.5 512.9V518.1M527.5 509.4V518.8M528.5 514.0V516.8M529.5 517.4V518.4M530.5 513.3V518.3M531.5 516.9V518.4M532.5 514.5V518.4M533.5 514.9V517.1M534.5 511.7V516.6M535.5 512.0V518.0M536.5 516.9V517.9M537.5 514.3V516.2M538.5 513.8V517.4M539.5 518.0V519.0M540.5 515.1V518.7M541.5 516.4V519.1M542.5 516.1V519.1M543.5 513.7V519.1M544.5 517.2V518.4M545.5 515.2V518.4M546.5 509.3V514.0M547.5 517.6V518.6M548.5 516.1V518.1M549.5 514.6V518.4M550.5 517.8V518.9M551.5 505.6V517.6M552.5 515.7V516.7M553.5 515.0V516.2M554.5 507.9V513.9M555.5 506.6V513.6M556.5 513.7V519.0M557.5 514.3V517.3M558.5 490.5V518.0M559.5 515.7V516.7M560.5 510.9V516.4M561.5 516.1V517.9M562.5 512.6V516.7M563.5 516.5V518.6M564.5 515.1V518.4M565.5 508.5V516.1M566.5 493.5V515.6M567.5 511.3V517.1M568.5 514.9V518.0M569.5 509.8V516.3M570.5 513.4V517.7M571.5 516.0V519.3M572.5 513.9V518.0M573.5 517.4V519.0M574.5 510.9V517.5M575.5 514.2V515.3M576.5 512.2V515.3M577.5 507.5V517.2M578.5 514.2V517.9M579.5 509.9V518.6M580.5 516.6V517.6M581.5 513.8V519.5M582.5 514.8V518.2M583.5 510.9V516.2M584.5 507.0V518.4M585.5 514.2V517.8M586.5 513.8V516.4M587.5 509.1V517.5M588.5 509.9V516.1M589.5 508.2V519.3M590.5 511.2V515.8M591.5 514.5V516.5M592.5 512.1V517.6M593.5 511.0V515.7M594.5 516.4V517.6M595.5 517.1V518.1M596.5 516.0V518.7M597.5 508.5V517.9M598.5 516.9V517.9M599.5 510.7V514.8M600.5 511.4V517.1M601.5 516.5V518.3M602.5 515.3V518.7M603.5 510.3V515.6M604.5 510.4V515.5M605.5 515.2V517.1M606.5 510.6V517.1M607.5 517.3V518.8M608.5 517.7V518.8M609.5 517.0V518.9M610.5 511.2V516.9M611.5 514.8V517.4M612.5 514.5V518.4M613.5 514.9V517.1M614.5 514.6V517.3M615.5 518.0V519.3M616.5 513.8V519.1M617.5 517.2V518.7M618.5 509.3V516.3M619.5 514.5V517.7M620.5 515.7V518.5M621.5 518.2V519.2M622.5 514.1V517.2M623.5 514.3V517.2M624.5 516.4V518.2M625.5 509.5V516.8M626.5 515.6V518.3M627.5 516.3V518.8M628.5 510.9V515.8M629.5 514.9V518.3M630.5 512.1V517.7M631.5 508.0V516.0M632.5 514.3V518.5M633.5 515.0V517.6M634.5 517.8V518.8M635.5 509.7V517.8M636.5 510.6V516.3M637.5 515.6V517.2M638.5 507.4V516.8M639.5 517.9V518.9M640.5 514.7V518.4M641.5 514.6V516.2M642.5 513.3V516.3M643.5 511.7V516.0M644.5 516.2V517.3M645.5 510.2V517.4M646.5 518.3V519.3M647.5 515.8V518.5M648.5 517.0V518.4M649.5 515.4V518.1M650.5 509.3V518.8M651.5 505.3V517.6M652.5 516.8V519.1M653.5 513.5V516.3M654.5 516.6V518.7M655.5 495.5V519.0M656.5 511.8V515.0M657.5 509.3V514.9M658.5 514.8V517.4M659.5 510.2V516.6M660.5 515.8V517.5M661.5 508.5V519.1M662.5 514.3V518.8M663.5 515.5V519.4M664.5 511.8V515.4M665.5 508.3V514.8M666.5 515.6V518.9M667.5 517.1V518.8M668.5 512.7V518.1M669.5 508.8V518.1M670.5 516.1V518.6M671.5 517.1V518.9M672.5 516.7V518.2M673.5 517.0V518.4M674.5 514.5V517.0M675.5 514.3V518.1M676.5 512.1V518.5M677.5 516.5V517.5M678.5 509.5V519.3M679.5 507.5V519.2M680.5 517.1V519.2M681.5 516.1V518.1M682.5 517.6V518.8M683.5 512.1V518.8M684.5 518.0V519.3M685.5 516.5V518.9M686.5 511.8V517.1M687.5 517.2V518.6M688.5 517.2V518.6M689.5 514.7V517.1M690.5 512.5V515.4M691.5 515.0V517.7M692.5 517.2V518.2M693.5 506.3V515.4M694.5 515.4V518.5M695.5 512.0V517.1M696.5 517.3V518.6M697.5 512.8V517.2M698.5 510.9V517.2M699.5 516.6V517.7M700.5 514.9V517.3M701.5 504.7V517.6M702.5 514.8V517.3M703.5 517.3V518.3M704.5 514.5V516.9M705.5 517.2V518.2M706.5 510.9V515.5M707.5 512.4V518.5M708.5 514.2V518.2M709.5 509.3V518.6M710.5 518.4V519.4M711.5 510.7V519.5M712.5 515.1V518.6M713.5 510.9V516.2M714.5 513.2V517.7M715.5 515.1V516.2M716.5 511.1V516.2M717.5 509.9V515.9M718.5 515.6V516.6M719.5 514.6V517.9M720.5 512.0V516.0M721.5 514.0V516.3M722.5 514.8V517.3M723.5 509.5V517.0M724.5 511.7V518.3M725.5 513.7V517.9M726.5 514.7V517.6M727.5 517.1V518.7M728.5 516.2V517.8M729.5 513.9V515.4M730.5 512.1V517.6M731.5 507.8V516.8M732.5 516.6V518.5M733.5 514.5V516.9M734.5 513.9V518.1M735.5 517.2V519.4M736.5 518.2V519.2M737.5 508.3V518.1M738.5 508.0V514.5M739.5 513.8V519.3M740.5 505.3V512.0M741.5 517.1V518.1M742.5 515.5V516.9M743.5 515.8V516.8M744.5 518.4V519.4M745.5 513.8V517.8M746.5 516.2V517.2M747.5 508.7V517.0M748.5 518.2V519.4M749.5 512.1V519.0M750.5 507.7V516.1M751.5 514.8V518.0M752.5 516.6V518.3M753.5 507.9V513.4M754.5 508.0V514.5M755.5 515.9V518.0M756.5 517.0V518.0M757.5 493.5V510.6M758.5 504.5V510.2M759.5 518.0V519.0M760.5 514.5V516.6M761.5 516.9V517.9M762.5 506.9V515.7M763.5 514.4V515.9M764.5 517.3V518.3M765.5 506.8V515.0M766.5 512.3V517.3M767.5 515.4V516.4M768.5 511.4V515.3M769.5 513.9V515.6M770.5 514.7V515.7M771.5 512.2V518.1M772.5 512.6V517.9M773.5 515.4V517.7M774.5 514.0V516.9M775.5 514.9V516.8M776.5 508.2V517.2M777.5 514.5V517.0M778.5 509.5V516.0M779.5 517.0V518.1M780.5 516.3V518.1M781.5 495.5V517.4M782.5 517.8V518.8M783.5 515.4V518.2M784.5 518.4V519.4M785.5 508.4V515.7M786.5 508.1V519.1M787.5 517.4V519.0M788.5 514.2V517.7M789.5 512.6V516.5M790.5 516.4V517.5M791.5 508.1V517.5M792.5 515.9V516.9M793.5 512.8V515.5M794.5 514.7V516.3M795.5 517.4V518.4M796.5 513.4V517.7M797.5 515.2V516.2M798.5 511.0V515.2M799.5 515.0V517.5M800.5 517.2V518.2M801.5 513.6V517.5M802.5 516.8V517.8M803.5 515.6V518.1M804.5 515.3V518.6M805.5 513.0V515.9M806.5 508.2V515.7M807.5 512.6V516.0M808.5 514.8V516.0M809.5 514.6V518.0M810.5 518.5V519.5M811.5 516.6V519.4M812.5 510.0V515.9M813.5 518.3V519.3M814.5 510.9V518.8M815.5 515.4V516.4M816.5 515.0V518.5M817.5 515.6V517.7M818.5 516.8V517.8M819.5 471.5V514.4M820.5 505.5V516.9M821.5 515.2V518.1M822.5 511.0V518.3M823.5 517.5V518.5M824.5 509.0V519.4M825.5 515.2V518.4M826.5 509.9V515.4M827.5 514.1V516.0M828.5 515.8V516.8M829.5 508.8V519.0M830.5 510.3V516.8M831.5 515.9V517.8M832.5 510.2V513.9M833.5 514.4V518.1M834.5 517.7V519.0M835.5 510.4V517.3M836.5 516.9V517.9M837.5 513.9V516.0M838.5 517.5V518.5M839.5 504.9V517.3M840.5 518.0V519.0M841.5 509.7V518.4M842.5 508.5V515.6M843.5 513.7V515.4M844.5 507.7V517.5M845.5 514.0V519.1M846.5 515.0V518.7M847.5 516.4V519.4M848.5 511.8V515.9M849.5 511.2V514.5M850.5 515.3V518.9M851.5 512.8V518.0M852.5 503.3V510.2M853.5 509.6V518.8M854.5 513.4V518.9M855.5 514.2V516.4M856.5 516.0V517.0M857.5 514.6V519.1M858.5 516.2V519.3M859.5 515.2V517.1M860.5 511.2V516.8M861.5 509.6V515.3M862.5 514.6V516.0M863.5 514.8V515.9M864.5 515.8V516.8M865.5 515.4V516.7M866.5 514.9V518.6M867.5 516.5V518.9M868.5 515.8V517.6M869.5 516.7V517.7M870.5 512.7V517.3M871.5 514.2V516.6M872.5 491.0V511.6M873.5 510.4V515.7M874.5 507.4V514.5M875.5 506.3V516.4M876.5 515.9V516.9M877.5 514.6V517.2M878.5 514.0V519.0M879.5 507.1V516.7M880.5 513.7V517.9M881.5 509.8V515.0M882.5 470.1V513.2M883.5 491.5V516.5M884.5 514.2V516.2M885.5 509.8V513.3M886.5 511.6V514.2M887.5 517.5V518.5M888.5 516.6V517.9M889.5 516.6V517.6M890.5 506.0V515.4M891.5 511.3V516.2M892.5 515.1V516.1M893.5 513.7V517.4M894.5 518.5V519.5M895.5 514.4V515.6M896.5 514.4V517.8M897.5 514.7V517.5M898.5 514.3V517.1M899.5 516.0V517.1M900.5 515.7V518.3M901.5 514.9V519.3M902.5 517.3V519.1M903.5 516.8V518.9M904.5 513.1V516.2M905.5 514.0V515.0M906.5 509.3V518.6M907.5 510.9V516.8M908.5 515.3V518.6M909.5 514.7V517.2M910.5 515.0V517.1M911.5 509.8V516.3M912.5 509.4V518.3M913.5 514.7V519.0M914.5 514.6V518.8M915.5 517.9V518.9M916.5 515.9V517.6M917.5 507.6V514.8M918.5 514.1V516.9M919.5 509.8V516.1M920.5 518.0V519.0M921.5 510.9V516.4M922.5 510.3V516.2M923.5 514.6V517.1M924.5 514.9V518.0M925.5 516.8V517.8M926.5 514.9V517.6M927.5 507.2V514.0M928.5 518.3V519.3M929.5 515.9V517.8M930.5 512.9V518.2M931.5 515.4V518.8M932.5 514.1V516.3M933.5 517.8V518.8M934.5 507.7V515.9M935.5 480.0V505.0M936.5 494.5V515.7M937.5 514.3V517.3M938.5 514.6V517.1M939.5 504.9V517.7M940.5 517.8V518.8M941.5 515.1V517.7M942.5 512.6V516.5M943.5 518.1V519.1M944.5 512.0V516.2M945.5 493.5V516.0M946.5 516.4V517.5M947.5 514.5V517.5M948.5 516.1V518.9M949.5 517.1V519.2M950.5 515.8V518.1M951.5 515.2V518.0M952.5 511.9V517.2M953.5 517.6V518.6M954.5 514.3V515.7M955.5 508.2V515.8M956.5 510.1V515.3M957.5 512.2V514.9M958.5 508.1V514.4M959.5 513.8V519.0M960.5 511.1V516.7M961.5 517.2V518.2M962.5 514.0V517.9M963.5 513.3V517.4M964.5 516.5V518.3M965.5 508.5V519.1M966.5 518.2V519.2M967.5 513.5V515.7M968.5 514.1V515.7M969.5 517.2V518.2M970.5 513.8V516.6M971.5 516.5V517.5M972.5 513.3V517.8M973.5 511.7V518.8M974.5 513.6V514.6M975.5 508.5V514.0M976.5 515.6V519.1M977.5 517.4V519.4M978.5 511.1V515.3M979.5 493.5V511.0M980.5 516.6V517.9M981.5 512.3V516.4M982.5 506.5V514.2M983.5 515.2V517.2M984.5 511.6V515.7M985.5 512.3V515.2M986.5 505.9V517.4M987.5 516.4V517.6M988.5 508.5V513.9M989.5 515.5V516.5M129 517.5H132M132 516.5H136M136 515.5H147M147 514.5H155M155 513.5H165M165 512.5H170M170 513.5H172" fill="none" stroke="#009e73" stroke-width="1"/>
<path d="M94.5 516.1L95.1 507.1L95.7 514.6L96.4 514.6L97.0 514.7L97.6 509.1L98.2 514.4L98.9 514.7L99.5 514.6L100.1 514.6L100.7 514.7L101.3 514.4L102.0 518.2L102.6 514.7L103.2 514.8L103.8 518.4L104.4 514.6L105.1 505.8L105.7 514.6L106.3 510.1L106.9 514.7L107.6 514.7L108.2 518.5L108.8 514.8L109.4 514.5L110.0 505.5L110.7 514.8L111.3 508.0L111.9 503.9L112.5 514.8L113.1 514.6L113.8 514.6L114.4 514.8L115.0 516.1L115.6 514.7L116.3 514.5L116.9 514.6L117.5 514.6L118.1 514.8L118.7 514.5L119.4 514.5L120.0 514.7L120.6 514.6L121.2 514.8L121.8 518.6L122.5 509.2L123.1 514.7L123.7 508.9L124.3 514.6L125.0 514.5L125.6 514.6L126.2 514.6L126.8 516.4L127.4 514.5L128.1 514.7L128.7 508.7L129.3 514.6M171.6 514.7L172.2 514.6L172.8 506.8L173.4 514.5L174.1 514.5L174.7 510.2L175.3 514.6L175.9 507.4L176.5 514.5L177.2 514.7L177.8 514.7L178.4 514.6L179.0 514.6L179.6 514.6L180.3 514.7L180.9 514.7L181.5 514.7L182.1 504.3L182.8 514.6L183.4 514.6L184.0 483.0L184.6 514.5L185.2 514.6L185.9 510.0L186.5 514.5L187.1 514.7L187.7 514.7L188.4 514.6L189.0 514.7L189.6 514.6L190.2 517.0L190.8 514.7L191.5 514.5L192.1 514.6L192.7 514.5L193.3 514.7L193.9 514.6L194.6 504.9L195.2 514.6L195.8 514.8L196.4 514.6L197.1 514.7L197.7 506.5L198.3 514.9L198.9 514.7L199.5 514.7L200.2 508.3L200.8 514.6L201.4 514.5L202.0 514.6L202.6 514.6L203.3 514.5L203.9 509.9L204.5 514.5L205.1 514.7L205.8 507.8L206.4 514.8L207.0 515.8L207.6 514.5L208.2 507.1L208.9 514.8L209.5 506.3L210.1 514.5L210.7 514.6L211.3 514.7L212.0 514.5L212.6 514.6L213.2 514.7L213.8 514.6L214.5 514.8L215.1 514.6L215.7 514.6L216.3 514.6L216.9 514.5L217.6 506.0L218.2 514.7L218.8 514.7L219.4 514.6L220.0 514.6L220.7 516.8L221.3 504.2L221.9 514.5L222.5 514.7L223.2 514.7L223.8 514.8L224.4 514.6L225.0 518.4L225.6 514.7L226.3 508.5L226.9 514.7L227.5 514.8L228.1 514.8L228.8 514.4L229.4 507.3L230.0 514.6L230.6 518.2L231.2 518.4L231.9 514.7L232.5 514.7L233.1 505.5L233.7 514.7L234.3 514.6L235.0 514.6L235.6 507.0L236.2 514.5L236.8 514.6L237.5 514.9L238.1 514.8L238.7 514.7L239.3 514.7L239.9 514.6L240.6 518.4L241.2 514.6L241.8 514.6L242.4 514.7L243.0 514.7L243.7 514.5L244.3 504.5L244.9 514.7L245.5 514.5L246.2 514.6L246.8 514.7L247.4 514.6L248.0 514.6L248.6 517.6L249.3 514.8L249.9 514.4L250.5 514.7L251.1 514.5L251.7 514.8L252.4 510.0L253.0 514.6L253.6 514.6L254.2 514.6L254.9 514.6L255.5 514.6L256.1 514.4L256.7 514.7L257.3 514.6L258.0 514.5L258.6 514.5L259.2 506.2L259.8 514.6L260.4 514.4L261.1 509.9L261.7 514.4L262.3 514.7L262.9 514.6L263.6 514.5L264.2 514.6L264.8 514.7L265.4 514.7L266.0 514.7L266.7 514.6L267.3 514.7L267.9 506.1L268.5 514.7L269.1 514.9L269.8 514.6L270.4 514.4L271.0 514.6L271.6 514.4L272.3 514.7L272.9 514.5L273.5 510.5L274.1 514.6L274.7 514.5L275.4 514.4L276.0 505.2L276.6 517.5L277.2 514.6L277.9 514.6L278.5 514.5L279.1 514.7L279.7 514.7L280.3 514.7L281.0 514.4L281.6 514.7L282.2 514.8L282.8 515.8L283.4 514.7L284.1 514.6L284.7 514.7L285.3 514.7L285.9 514.7L286.6 514.8L287.2 506.2L287.8 514.5L288.4 510.2L289.0 514.9L289.7 514.7L290.3 514.8L290.9 514.6L291.5 514.7L292.1 514.6L292.8 514.8L293.4 518.4L294.0 514.7L294.6 509.2L295.3 516.4L295.9 514.5L296.5 491.0L297.1 514.4L297.7 507.3L298.4 514.7L299.0 514.8L299.6 514.8L300.2 514.6L300.8 514.7L301.5 514.8L302.1 514.7L302.7 514.8L303.3 514.6L304.0 514.7L304.6 518.2L305.2 514.6L305.8 516.1L306.4 514.7L307.1 514.6L307.7 514.4L308.3 514.7L308.9 514.7L309.5 514.6L310.2 514.7L310.8 505.0L311.4 514.8L312.0 514.6L312.7 514.7L313.3 506.6L313.9 514.8L314.5 514.7L315.1 514.5L315.8 514.6L316.4 514.6L317.0 514.4L317.6 514.6L318.2 507.3L318.9 514.8L319.5 518.0L320.1 514.6L320.7 518.2L321.4 514.6L322.0 514.4L322.6 514.4L323.2 514.6L323.8 514.8L324.5 514.6L325.1 514.7L325.7 517.1L326.3 516.4L327.0 503.0L327.6 514.6L328.2 514.8L328.8 514.5L329.4 509.0L330.1 514.5L330.7 514.5L331.3 518.1L331.9 514.7L332.5 508.6L333.2 514.7L333.8 515.8L334.4 514.6L335.0 514.6L335.7 514.7L336.3 514.5L336.9 514.6L337.5 514.7L338.1 514.5L338.8 514.5L339.4 514.3L340.0 514.8L340.6 507.7L341.2 514.7L341.9 514.5L342.5 514.6L343.1 505.2L343.7 514.6L344.4 514.7L345.0 509.0L345.6 516.5L346.2 514.8L346.8 514.6L347.5 514.6L348.1 505.4L348.7 514.5L349.3 510.5L349.9 514.6L350.6 510.1L351.2 514.7L351.8 514.7L352.4 514.6L353.1 518.0L353.7 514.6L354.3 514.8L354.9 517.2L355.5 514.5L356.2 514.6L356.8 514.5L357.4 514.7L358.0 514.8L358.6 514.6L359.3 514.5L359.9 514.6L360.5 514.7L361.1 514.5L361.8 514.7L362.4 514.6L363.0 514.7L363.6 514.5L364.2 509.5L364.9 514.7L365.5 514.6L366.1 518.1L366.7 514.5L367.4 514.7L368.0 514.6L368.6 514.7L369.2 514.6L369.8 514.7L370.5 514.7L371.1 507.1L371.7 509.4L372.3 514.5L372.9 514.4L373.6 514.6L374.2 514.6L374.8 510.0L375.4 514.7L376.1 514.6L376.7 514.7L377.3 507.5L377.9 514.5L378.5 517.6L379.2 518.3L379.8 514.6L380.4 514.7L381.0 517.5L381.6 514.7L382.3 514.7L382.9 514.6L383.5 514.6L384.1 514.7L384.8 514.5L385.4 514.4L386.0 514.7L386.6 514.7L387.2 514.6L387.9 514.7L388.5 514.5L389.1 514.5L389.7 514.6L390.3 517.7L391.0 514.7L391.6 517.2L392.2 514.6L392.8 514.7L393.5 514.6L394.1 514.6L394.7 516.8L395.3 509.9L395.9 514.6L396.6 516.1L397.2 507.6L397.8 514.7L398.4 507.0L399.0 514.6L399.7 514.5L400.3 514.5L400.9 514.6L401.5 514.5L402.2 514.9L402.8 514.5L403.4 514.6L404.0 516.4L404.6 518.2L405.3 504.4L405.9 514.5L406.5 514.7L407.1 514.4L407.8 514.6L408.4 514.8L409.0 514.7L409.6 514.6L410.2 514.4L410.9 508.9L411.5 514.6L412.1 514.8L412.7 514.5L413.3 514.7L414.0 517.5L414.6 514.7L415.2 514.5L415.8 514.4L416.5 514.7L417.1 514.8L417.7 514.6L418.3 509.4L418.9 514.5L419.6 506.6L420.2 514.5L420.8 506.2L421.4 514.8L422.0 514.6L422.7 514.6L423.3 514.7L423.9 514.5L424.5 517.1L425.2 514.7L425.8 514.5L426.4 514.7L427.0 509.3L427.6 514.4L428.3 514.6L428.9 516.3L429.5 506.4L430.1 514.4L430.7 514.6L431.4 509.1L432.0 514.6L432.6 504.8L433.2 514.6L433.9 514.8L434.5 514.6L435.1 514.5L435.7 517.2L436.3 514.5L437.0 514.8L437.6 514.5L438.2 514.4L438.8 518.4L439.4 514.5L440.1 514.7L440.7 514.6L441.3 507.0L441.9 514.6L442.6 514.5L443.2 514.7L443.8 514.6L444.4 517.7L445.0 514.5L445.7 514.5L446.3 514.6L446.9 514.5L447.5 514.7L448.1 514.6L448.8 514.6L449.4 510.6L450.0 514.6L450.6 510.4L451.3 514.5L451.9 514.5L452.5 514.6L453.1 514.5L453.7 514.7L454.4 514.5L455.0 514.7L455.6 514.6L456.2 514.7L456.9 514.8L457.5 514.7L458.1 514.8L458.7 514.7L459.3 514.7L460.0 514.7L460.6 514.5L461.2 514.6L461.8 514.7L462.4 514.6L463.1 514.7L463.7 514.6L464.3 514.7L464.9 514.7L465.6 514.8L466.2 505.1L466.8 514.7L467.4 514.6L468.0 514.7L468.7 514.7L469.3 514.7L469.9 509.3L470.5 514.6L471.1 515.7L471.8 514.6L472.4 514.6L473.0 514.3L473.6 514.7L474.3 514.5L474.9 514.8L475.5 517.8L476.1 514.7L476.7 514.5L477.4 514.6L478.0 514.5L478.6 514.9L479.2 514.7L479.8 514.6L480.5 514.7L481.1 514.6L481.7 514.5L482.3 517.4L483.0 514.6L483.6 516.7L484.2 514.6L484.8 505.4L485.4 514.6L486.1 514.8L486.7 514.8L487.3 514.6L487.9 514.7L488.5 514.7L489.2 517.3L489.8 518.2L490.4 515.0L491.0 514.8L491.7 514.5L492.3 514.5L492.9 514.7L493.5 514.6L494.1 514.4L494.8 514.7L495.4 514.8L496.0 514.7L496.6 514.8L497.2 504.8L497.9 514.8L498.5 514.7L499.1 514.8L499.7 514.5L500.4 518.6L501.0 514.5L501.6 514.7L502.2 514.7L502.8 514.6L503.5 514.6L504.1 514.6L504.7 514.6L505.3 514.7L506.0 514.6L506.6 514.7L507.2 514.6L507.8 504.6L508.4 514.7L509.1 517.3L509.7 514.8L510.3 514.6L510.9 516.1L511.5 514.6L512.2 514.5L512.8 514.7L513.4 507.0L514.0 506.3L514.7 504.7L515.3 516.0L515.9 514.7L516.5 514.5L517.1 514.7L517.8 514.7L518.4 514.6L519.0 514.5L519.6 514.7L520.2 514.6L520.9 514.7L521.5 514.5L522.1 514.6L522.7 514.6L523.4 514.5L524.0 514.7L524.6 514.6L525.2 514.7L525.8 517.6L526.5 514.8L527.1 514.7L527.7 514.7L528.3 514.7L528.9 514.5L529.6 506.1L530.2 514.8L530.8 514.6L531.4 514.8L532.1 514.7L532.7 514.6L533.3 505.2L533.9 514.7L534.5 514.6L535.2 508.7L535.8 514.8L536.4 491.8L537.0 514.6L537.6 514.7L538.3 510.3L538.9 514.6L539.5 514.5L540.1 504.3L540.8 506.5L541.4 514.6L542.0 514.8L542.6 514.5L543.2 514.8L543.9 514.6L544.5 514.6L545.1 514.8L545.7 508.1L546.4 514.7L547.0 518.0L547.6 514.5L548.2 514.5L548.8 514.5L549.5 514.6L550.1 506.2L550.7 514.8L551.3 514.6L551.9 514.6L552.6 514.5L553.2 514.6L553.8 517.5L554.4 514.8L555.1 514.6L555.7 504.7L556.3 514.7L556.9 514.7L557.5 514.7L558.2 514.5L558.8 514.7L559.4 514.8L560.0 514.6L560.6 514.6L561.3 514.8L561.9 514.5L562.5 518.0L563.1 510.0L563.8 514.7L564.4 514.7L565.0 514.5L565.6 514.6L566.2 508.1L566.9 514.7L567.5 514.6L568.1 505.8L568.7 506.5L569.3 514.4L570.0 514.7L570.6 514.7L571.2 514.7L571.8 507.6L572.5 510.1L573.1 514.6L573.7 510.2L574.3 514.5L574.9 508.6L575.6 514.5L576.2 514.8L576.8 509.8L577.4 515.9L578.0 514.7L578.7 508.6L579.3 514.7L579.9 514.6L580.5 514.8L581.2 517.8L581.8 514.5L582.4 514.6L583.0 514.7L583.6 514.7L584.3 514.6L584.9 514.6L585.5 514.7L586.1 514.7L586.8 514.4L587.4 514.7L588.0 514.5L588.6 514.6L589.2 517.2L589.9 514.7L590.5 514.7L591.1 514.6L591.7 514.6L592.3 514.8L593.0 514.5L593.6 514.9L594.2 514.4L594.8 514.6L595.5 514.7L596.1 514.7L596.7 514.6L597.3 514.6L597.9 514.6L598.6 514.6L599.2 510.6L599.8 514.7L600.4 514.4L601.0 514.7L601.7 514.7L602.3 508.4L602.9 514.8L603.5 514.7L604.2 518.2L604.8 514.5L605.4 514.6L606.0 514.7L606.6 514.6L607.3 514.7L607.9 514.6L608.5 514.7L609.1 514.5L609.7 514.7L610.4 514.7L611.0 514.7L611.6 505.6L612.2 514.6L612.9 509.0L613.5 514.6L614.1 514.8L614.7 518.1L615.3 514.6L616.0 514.6L616.6 514.5L617.2 514.7L617.8 514.7L618.4 514.7L619.1 514.5L619.7 514.6L620.3 514.5L620.9 514.5L621.6 514.6L622.2 514.5L622.8 514.6L623.4 514.6L624.0 514.5L624.7 514.5L625.3 514.7L625.9 514.6L626.5 514.7L627.1 514.5L627.8 514.7L628.4 514.5L629.0 514.7L629.6 514.6L630.3 514.8L630.9 514.8L631.5 514.3L632.1 514.8L632.7 514.5L633.4 514.4L634.0 514.6L634.6 514.5L635.2 514.6L635.9 510.5L636.5 514.7L637.1 510.7L637.7 516.6L638.3 514.8L639.0 514.6L639.6 508.7L640.2 518.0L640.8 514.7L641.4 506.7L642.1 514.5L642.7 514.8L643.3 514.7L643.9 514.5L644.6 514.6L645.2 514.6L645.8 517.8L646.4 514.8L647.0 504.5L647.7 514.7L648.3 514.6L648.9 514.5L649.5 514.5L650.1 514.7L650.8 514.7L651.4 514.4L652.0 514.7L652.6 514.6L653.3 505.9L653.9 514.6L654.5 514.6L655.1 517.9L655.7 514.7L656.4 514.8L657.0 514.5L657.6 514.4L658.2 514.6L658.8 514.5L659.5 514.6L660.1 514.6L660.7 514.7L661.3 514.5L662.0 507.8L662.6 514.7L663.2 514.3L663.8 516.9L664.4 514.6L665.1 514.7L665.7 514.5L666.3 514.6L666.9 514.6L667.5 514.7L668.2 514.7L668.8 514.7L669.4 514.7L670.0 514.8L670.7 514.6L671.3 514.6L671.9 518.1L672.5 514.6L673.1 514.6L673.8 514.7L674.4 514.7L675.0 515.0L675.6 514.7L676.2 514.7L676.9 514.5L677.5 514.5L678.1 514.7L678.7 505.3L679.4 514.7L680.0 514.6L680.6 514.6L681.2 514.6L681.8 514.7L682.5 514.5L683.1 514.7L683.7 514.7L684.3 514.6L685.0 514.5L685.6 514.7L686.2 514.7L686.8 514.5L687.4 514.6L688.1 506.7L688.7 514.5L689.3 518.2L689.9 514.5L690.5 514.5L691.2 514.7L691.8 514.5L692.4 510.0L693.0 514.7L693.7 514.7L694.3 514.7L694.9 514.6L695.5 514.7L696.1 514.6L696.8 514.7L697.4 514.7L698.0 514.5L698.6 514.5L699.2 514.6L699.9 514.7L700.5 514.7L701.1 514.6L701.7 514.5L702.4 514.8L703.0 514.6L703.6 514.6L704.2 514.7L704.8 514.7L705.5 506.1L706.1 514.7L706.7 514.6L707.3 514.5L707.9 514.8L708.6 516.0L709.2 514.7L709.8 514.6L710.4 505.1L711.1 514.8L711.7 514.6L712.3 514.8L712.9 514.6L713.5 517.2L714.2 518.0L714.8 514.7L715.4 514.7L716.0 514.7L716.6 514.6L717.3 514.6L717.9 514.6L718.5 514.6L719.1 514.6L719.8 514.7L720.4 514.6L721.0 514.5L721.6 514.5L722.2 515.8L722.9 509.1L723.5 514.8L724.1 504.9L724.7 506.5L725.4 514.5L726.0 514.7L726.6 514.7L727.2 514.4L727.8 514.9L728.5 514.7L729.1 514.6L729.7 514.7L730.3 514.6L730.9 514.6L731.6 514.5L732.2 514.7L732.8 514.6L733.4 514.6L734.1 514.7L734.7 510.6L735.3 517.1L735.9 514.6L736.5 514.6L737.2 514.4L737.8 514.7L738.4 514.5L739.0 514.8L739.6 508.1L740.3 514.6L740.9 514.7L741.5 514.8L742.1 514.8L742.8 514.7L743.4 514.8L744.0 514.6L744.6 514.6L745.2 514.7L745.9 514.6L746.5 514.8L747.1 514.7L747.7 516.9L748.3 514.6L749.0 514.6L749.6 514.8L750.2 514.5L750.8 514.5L751.5 508.7L752.1 516.8L752.7 514.8L753.3 514.6L753.9 514.6L754.6 514.6L755.2 514.7L755.8 510.1L756.4 507.4L757.0 516.4L757.7 514.8L758.3 514.6L758.9 514.7L759.5 514.7L760.2 514.8L760.8 514.6L761.4 514.9L762.0 514.6L762.6 514.7L763.3 514.6L763.9 514.5L764.5 517.0L765.1 514.7L765.8 510.4L766.4 514.9L767.0 514.6L767.6 514.7L768.2 514.8L768.9 514.6L769.5 509.5L770.1 508.7L770.7 514.7L771.3 514.4L772.0 506.9L772.6 514.5L773.2 516.7L773.8 518.3L774.5 514.7L775.1 514.9L775.7 514.6L776.3 514.6L776.9 514.9L777.6 514.4L778.2 514.7L778.8 514.5L779.4 514.7L780.0 514.7L780.7 504.8L781.3 514.4L781.9 514.6L782.5 514.7L783.2 514.6L783.8 514.6L784.4 514.6L785.0 514.6L785.6 514.5L786.3 514.6L786.9 514.6L787.5 514.8L788.1 514.7L788.7 514.8L789.4 514.6L790.0 514.4L790.6 514.6L791.2 514.7L791.9 514.7L792.5 514.6L793.1 514.8L793.7 514.8L794.3 514.7L795.0 514.8L795.6 514.7L796.2 514.5L796.8 514.7L797.4 514.5L798.1 505.6L798.7 507.6L799.3 514.6L799.9 514.6L800.6 514.8L801.2 514.9L801.8 514.8L802.4 514.7L803.0 514.5L803.7 514.6L804.3 514.7L804.9 514.7L805.5 514.6L806.1 514.5L806.8 514.6L807.4 514.5L808.0 514.7L808.6 507.7L809.3 514.6L809.9 514.7L810.5 516.2L811.1 514.8L811.7 514.8L812.4 514.8L813.0 514.7L813.6 507.7L814.2 514.6L814.9 514.8L815.5 514.7L816.1 506.9L816.7 514.6L817.3 514.7L818.0 514.6L818.6 485.0L819.2 514.7L819.8 498.0L820.4 514.8L821.1 516.0L821.7 514.7L822.3 514.9L822.9 514.5L823.6 514.7L824.2 514.6L824.8 514.6L825.4 514.7L826.0 514.4L826.7 514.7L827.3 514.5L827.9 514.6L828.5 514.5L829.1 505.7L829.8 517.4L830.4 514.6L831.0 516.6L831.6 514.4L832.3 514.7L832.9 514.5L833.5 514.6L834.1 518.1L834.7 510.2L835.4 514.6L836.0 514.7L836.6 514.7L837.2 514.6L837.8 514.6L838.5 514.7L839.1 514.6L839.7 514.8L840.3 514.6L841.0 514.5L841.6 514.6L842.2 516.1L842.8 514.6L843.4 504.7L844.1 514.5L844.7 514.8L845.3 514.6L845.9 514.6L846.5 514.8L847.2 506.8L847.8 514.6L848.4 514.5L849.0 514.7L849.7 514.5L850.3 514.6L850.9 514.6L851.5 514.5L852.1 514.6L852.8 518.4L853.4 514.6L854.0 514.7L854.6 514.6L855.2 514.8L855.9 514.5L856.5 514.8L857.1 514.6L857.7 514.5L858.4 506.2L859.0 514.7L859.6 514.5L860.2 514.5L860.8 514.7L861.5 514.7L862.1 514.5L862.7 514.7L863.3 514.9L864.0 514.7L864.6 514.8L865.2 514.8L865.8 514.8L866.4 505.5L867.1 514.7L867.7 514.6L868.3 514.5L868.9 516.7L869.5 514.6L870.2 505.0L870.8 507.3L871.4 514.6L872.0 514.6L872.7 514.6L873.3 514.7L873.9 517.3L874.5 504.8L875.1 514.6L875.8 514.6L876.4 514.7L877.0 514.5L877.6 514.6L878.2 517.1L878.9 514.8L879.5 514.8L880.1 514.8L880.7 514.6L881.4 514.7L882.0 514.6L882.6 507.6L883.2 514.7L883.8 518.2L884.5 514.7L885.1 514.9L885.7 506.0L886.3 514.7L886.9 514.6L887.6 514.5L888.2 514.6L888.8 514.5L889.4 517.0L890.1 516.3L890.7 514.4L891.3 514.6L891.9 514.7L892.5 514.8L893.2 514.5L893.8 514.4L894.4 514.7L895.0 514.5L895.6 514.6L896.3 514.7L896.9 514.6L897.5 514.8L898.1 514.6L898.8 514.6L899.4 514.6L900.0 507.0L900.6 506.3L901.2 514.5L901.9 504.6L902.5 514.5L903.1 514.6L903.7 514.7L904.4 506.5L905.0 509.2L905.6 514.6L906.2 514.6L906.8 514.6L907.5 514.8L908.1 514.5L908.7 514.7L909.3 518.0L909.9 514.6L910.6 514.4L911.2 514.6L911.8 514.7L912.4 514.7L913.1 509.4L913.7 516.4L914.3 514.5L914.9 514.6L915.5 514.4L916.2 514.8L916.8 514.5L917.4 514.7L918.0 514.8L918.6 514.6L919.3 514.6L919.9 514.8L920.5 514.5L921.1 514.6L921.8 514.8L922.4 516.0L923.0 514.8L923.6 514.8L924.2 514.6L924.9 514.8L925.5 514.6L926.1 514.6L926.7 514.5L927.3 516.5L928.0 505.4L928.6 514.6L929.2 514.6L929.8 514.6L930.5 514.7L931.1 514.7L931.7 514.6L932.3 514.6L932.9 514.6L933.6 514.6L934.2 514.6L934.8 514.8L935.4 514.7L936.0 514.5L936.7 514.9L937.3 514.7L937.9 514.4L938.5 514.5L939.2 514.6L939.8 514.4L940.4 514.5L941.0 514.6L941.6 514.7L942.3 514.6L942.9 514.7L943.5 514.6L944.1 514.6L944.8 514.5L945.4 516.4L946.0 514.6L946.6 514.7L947.2 514.8L947.9 514.7L948.5 518.3L949.1 514.6L949.7 514.4L950.3 514.7L951.0 514.5L951.6 514.7L952.2 505.9L952.8 514.7L953.5 514.8L954.1 514.8L954.7 514.7L955.3 514.6L955.9 514.7L956.6 514.8L957.2 514.5L957.8 514.8L958.4 514.6L959.0 514.7L959.7 514.8L960.3 514.7L960.9 514.6L961.5 514.9L962.2 514.5L962.8 516.8L963.4 517.0L964.0 514.5L964.6 516.0L965.3 514.8L965.9 514.7L966.5 514.7L967.1 514.6L967.7 514.5L968.4 514.5L969.0 514.7L969.6 510.4L970.2 509.9L970.9 514.6L971.5 514.5L972.1 516.2L972.7 514.6L973.3 514.8L974.0 514.6L974.6 514.3L975.2 514.6L975.8 514.7L976.4 514.7L977.1 514.6L977.7 510.7L978.3 517.1L978.9 514.5L979.6 514.7L980.2 514.6L980.8 514.6L981.4 514.7L982.0 514.7L982.7 517.7L983.3 514.8L983.9 514.6L984.5 514.6L985.1 514.6L985.8 514.6L986.4 514.7L987.0 514.6L987.6 504.6L988.3 514.6L988.9 514.6L989.5 514.7" fill="none" stroke="#56b4e9" stroke-width="1" stroke-linejoin="miter" stroke-miterlimit="2"/><path d="M94.5 515.6V516.6M95.5 506.6V515.1M96.5 514.1V515.2M97.5 508.6V515.1M98.5 513.9V515.2M99.5 514.1V515.2M100.5 514.1V515.2M101.5 513.9V518.7M102.5 514.2V518.5M103.5 514.3V518.9M104.5 514.1V517.8M105.5 505.3V515.1M106.5 509.6V515.2M107.5 514.2V518.0M108.5 514.3V519.0M109.5 514.0V515.2M110.5 505.0V515.3M111.5 503.4V511.6M112.5 514.3V515.3M113.5 514.1V515.2M114.5 514.3V516.6M115.5 514.2V516.6M116.5 514.0V515.1M117.5 514.1V515.2M118.5 514.0V515.3M119.5 514.0V515.2M120.5 514.1V515.2M121.5 514.3V519.1M122.5 508.7V516.8M123.5 508.4V515.2M124.5 514.0V515.1M125.5 514.1V515.1M126.5 514.1V516.9M127.5 514.0V516.3M128.5 508.2V515.2M129.5 514.1V515.1M171.5 514.2V515.2M172.5 506.3V515.1M173.5 514.0V515.0M174.5 509.7V515.0M175.5 506.9V515.1M176.5 514.0V515.2M177.5 514.2V515.2M178.5 514.1V515.2M179.5 514.1V515.1M180.5 514.2V515.2M181.5 514.2V515.2M182.5 503.8V515.1M183.5 514.1V515.1M184.5 482.5V515.1M185.5 509.5V515.1M186.5 514.0V515.2M187.5 514.2V515.2M188.5 514.1V515.2M189.5 514.1V516.7M190.5 514.2V517.5M191.5 514.0V515.1M192.5 514.0V515.1M193.5 514.1V515.2M194.5 504.4V514.2M195.5 514.1V515.3M196.5 514.1V515.2M197.5 506.0V515.2M198.5 514.2V515.4M199.5 514.2V515.2M200.5 507.8V515.1M201.5 514.0V515.1M202.5 514.1V515.1M203.5 509.4V515.1M204.5 514.0V515.2M205.5 507.3V515.2M206.5 514.3V516.3M207.5 514.0V516.3M208.5 506.6V515.3M209.5 505.8V513.7M210.5 514.0V515.2M211.5 514.0V515.2M212.5 514.1V515.2M213.5 514.1V515.2M214.5 514.3V515.3M215.5 514.1V515.1M216.5 514.0V515.1M217.5 505.5V514.2M218.5 514.2V515.2M219.5 514.1V515.2M220.5 514.1V517.3M221.5 503.7V515.0M222.5 514.2V515.2M223.5 514.2V515.3M224.5 514.1V518.8M225.5 514.2V518.9M226.5 508.0V515.2M227.5 514.3V515.3M228.5 513.9V515.3M229.5 506.8V515.1M230.5 517.7V518.8M231.5 514.2V518.9M232.5 514.2V515.2M233.5 505.0V515.2M234.5 514.1V515.1M235.5 506.5V514.7M236.5 514.0V515.2M237.5 514.4V515.4M238.5 514.2V515.3M239.5 514.1V515.4M240.5 517.9V518.9M241.5 514.1V516.2M242.5 514.2V515.2M243.5 514.0V515.2M244.5 504.0V515.2M245.5 514.0V515.2M246.5 514.1V515.2M247.5 514.1V515.2M248.5 514.1V518.1M249.5 513.9V516.5M250.5 514.2V515.2M251.5 514.0V515.3M252.5 509.5V515.1M253.5 514.1V515.1M254.5 514.1V515.1M255.5 514.1V515.1M256.5 513.9V515.2M257.5 514.0V515.2M258.5 514.0V515.0M259.5 505.7V515.1M260.5 513.9V515.0M261.5 509.4V515.0M262.5 514.1V515.2M263.5 514.0V515.1M264.5 514.1V515.2M265.5 514.2V515.2M266.5 514.1V515.2M267.5 505.6V515.2M268.5 514.2V515.3M269.5 514.1V515.4M270.5 513.9V515.1M271.5 513.9V515.1M272.5 514.0V515.2M273.5 510.0V514.3M274.5 514.0V515.1M275.5 504.7V514.9M276.5 517.0V518.0M277.5 514.1V516.2M278.5 514.0V515.1M279.5 514.2V515.2M280.5 513.9V515.2M281.5 514.2V515.3M282.5 514.3V516.3M283.5 514.2V516.0M284.5 514.1V515.2M285.5 514.2V515.2M286.5 514.3V515.3M287.5 505.7V515.0M288.5 509.7V515.1M289.5 514.2V515.4M290.5 514.1V515.3M291.5 514.2V515.2M292.5 514.1V516.7M293.5 517.9V518.9M294.5 508.7V515.2M295.5 514.0V516.9M296.5 490.5V510.5M297.5 506.8V514.9M298.5 514.2V515.3M299.5 514.3V515.3M300.5 514.1V515.2M301.5 514.3V515.3M302.5 514.2V515.3M303.5 514.1V515.5M304.5 517.7V518.7M305.5 514.1V516.6M306.5 514.2V516.1M307.5 513.9V515.1M308.5 514.2V515.2M309.5 514.1V515.2M310.5 504.5V515.2M311.5 514.3V515.3M312.5 514.1V515.2M313.5 506.1V515.3M314.5 514.2V515.3M315.5 514.0V515.1M316.5 514.1V515.1M317.5 513.9V515.1M318.5 506.8V516.0M319.5 517.5V518.5M320.5 514.1V518.7M321.5 513.9V517.2M322.5 513.9V515.0M323.5 514.1V515.3M324.5 514.1V515.2M325.5 514.2V517.6M326.5 502.5V517.3M327.5 514.1V515.3M328.5 514.0V515.3M329.5 508.5V514.5M330.5 514.0V516.9M331.5 514.2V518.6M332.5 508.1V514.5M333.5 514.2V516.3M334.5 514.1V515.9M335.5 514.1V515.2M336.5 514.0V515.1M337.5 514.2V515.2M338.5 514.0V515.1M339.5 513.8V515.3M340.5 507.2V515.3M341.5 514.0V515.2M342.5 514.1V515.1M343.5 504.7V515.1M344.5 508.5V515.2M345.5 516.0V517.0M346.5 514.1V515.9M347.5 514.1V515.1M348.5 504.9V515.0M349.5 510.0V515.1M350.5 509.6V514.7M351.5 514.2V515.2M352.5 514.1V518.2M353.5 514.1V518.5M354.5 514.3V517.7M355.5 514.0V517.4M356.5 514.0V515.1M357.5 514.2V515.3M358.5 514.1V515.3M359.5 514.0V515.2M360.5 514.2V515.2M361.5 514.0V515.2M362.5 514.1V515.2M363.5 514.0V515.2M364.5 509.0V515.2M365.5 514.1V518.0M366.5 514.0V518.6M367.5 514.1V515.2M368.5 514.2V515.2M369.5 514.1V515.2M370.5 514.2V515.2M371.5 506.6V512.4M372.5 513.9V515.0M373.5 514.1V515.1M374.5 509.5V515.1M375.5 514.2V515.2M376.5 514.1V515.2M377.5 507.0V515.4M378.5 517.1V518.6M379.5 514.1V518.8M380.5 514.2V517.9M381.5 514.2V518.0M382.5 514.1V515.2M383.5 514.1V515.2M384.5 514.0V515.2M385.5 513.9V515.2M386.5 514.2V515.2M387.5 514.1V515.2M388.5 514.0V515.1M389.5 514.0V516.5M390.5 514.2V518.2M391.5 516.7V517.7M392.5 514.1V516.0M393.5 514.1V515.2M394.5 514.1V517.3M395.5 509.4V515.3M396.5 515.6V516.6M397.5 507.1V515.2M398.5 506.5V514.5M399.5 514.0V515.1M400.5 514.0V515.1M401.5 514.0V515.3M402.5 514.0V515.4M403.5 514.1V516.8M404.5 515.9V518.7M405.5 503.9V515.0M406.5 514.2V515.2M407.5 513.9V515.2M408.5 514.2V515.3M409.5 514.1V515.2M410.5 508.4V515.0M411.5 514.1V515.3M412.5 514.0V515.3M413.5 514.2V518.0M414.5 514.2V517.9M415.5 513.9V515.1M416.5 514.2V515.3M417.5 514.1V515.3M418.5 508.9V515.0M419.5 506.1V514.3M420.5 505.7V515.0M421.5 514.3V515.3M422.5 514.1V515.2M423.5 514.0V515.3M424.5 516.6V517.6M425.5 514.0V515.8M426.5 514.2V515.2M427.5 508.8V515.0M428.5 514.1V516.8M429.5 505.9V514.9M430.5 513.9V515.1M431.5 508.6V515.1M432.5 504.3V515.0M433.5 514.1V515.3M434.5 514.1V515.2M435.5 514.0V517.7M436.5 514.0V516.5M437.5 514.0V515.3M438.5 513.9V518.9M439.5 514.0V517.8M440.5 514.1V515.2M441.5 506.5V515.1M442.5 514.0V515.2M443.5 514.1V516.1M444.5 517.2V518.2M445.5 514.0V515.2M446.5 514.0V515.1M447.5 514.2V515.2M448.5 514.1V515.2M449.5 510.1V515.1M450.5 509.9V515.1M451.5 514.0V515.0M452.5 514.1V515.1M453.5 514.0V515.2M454.5 514.0V515.2M455.5 514.1V515.2M456.5 514.2V515.3M457.5 514.2V515.3M458.5 514.2V515.3M459.5 514.2V515.2M460.5 514.0V515.2M461.5 514.1V515.2M462.5 514.1V515.2M463.5 514.1V515.2M464.5 514.2V515.2M465.5 514.3V515.3M466.5 504.6V515.2M467.5 514.1V515.2M468.5 514.2V515.2M469.5 508.8V515.2M470.5 514.1V515.9M471.5 514.1V516.2M472.5 514.1V515.1M473.5 513.8V515.2M474.5 514.0V515.9M475.5 517.3V518.3M476.5 514.0V515.8M477.5 514.0V515.1M478.5 514.4V515.4M479.5 514.1V515.3M480.5 514.2V515.2M481.5 514.0V516.4M482.5 514.1V517.9M483.5 516.2V517.2M484.5 504.9V515.8M485.5 514.1V515.2M486.5 514.3V515.3M487.5 514.1V515.2M488.5 514.2V517.1M489.5 516.8V518.7M490.5 514.5V517.6M491.5 514.0V515.3M492.5 514.0V515.2M493.5 514.1V515.2M494.5 513.9V515.2M495.5 514.3V515.3M496.5 514.2V515.3M497.5 504.3V515.3M498.5 514.2V515.3M499.5 514.0V516.8M500.5 514.0V519.1M501.5 514.2V515.2M502.5 514.1V515.2M503.5 514.1V515.1M504.5 514.1V515.1M505.5 514.1V515.2M506.5 514.2V515.2M507.5 504.1V515.1M508.5 514.2V517.6M509.5 514.3V517.8M510.5 514.1V516.6M511.5 514.1V516.4M512.5 514.0V515.2M513.5 506.5V512.6M514.5 504.2V511.5M515.5 514.2V516.5M516.5 514.0V515.2M517.5 514.2V515.2M518.5 514.1V515.2M519.5 514.0V515.2M520.5 514.1V515.2M521.5 514.0V515.2M522.5 514.1V515.1M523.5 514.0V515.2M524.5 514.1V515.2M525.5 514.2V518.1M526.5 514.3V517.4M527.5 514.2V515.2M528.5 514.0V515.2M529.5 505.6V514.3M530.5 514.1V515.3M531.5 514.3V515.3M532.5 514.1V515.2M533.5 504.7V515.2M534.5 514.1V515.2M535.5 508.2V515.3M536.5 491.3V514.1M537.5 514.1V515.2M538.5 509.8V515.1M539.5 514.0V515.1M540.5 503.8V510.2M541.5 514.1V515.3M542.5 514.0V515.3M543.5 514.1V515.3M544.5 514.1V515.3M545.5 507.6V515.3M546.5 514.2V518.5M547.5 514.0V518.4M548.5 514.0V515.0M549.5 514.1V515.1M550.5 505.7V515.3M551.5 514.1V515.2M552.5 514.0V515.1M553.5 514.1V518.0M554.5 514.3V517.2M555.5 504.2V515.1M556.5 514.2V515.2M557.5 514.2V515.2M558.5 514.0V515.2M559.5 514.3V515.3M560.5 514.1V515.2M561.5 514.0V515.6M562.5 517.5V518.5M563.5 509.5V515.2M564.5 514.0V515.2M565.5 514.1V515.1M566.5 507.6V515.2M567.5 514.1V515.2M568.5 505.3V510.5M569.5 513.9V515.2M570.5 514.2V515.2M571.5 507.1V515.2M572.5 509.6V514.6M573.5 509.7V515.1M574.5 508.1V515.0M575.5 514.0V515.3M576.5 509.3V515.3M577.5 515.4V516.4M578.5 508.1V515.3M579.5 514.1V515.2M580.5 514.3V517.5M581.5 514.0V518.3M582.5 514.1V515.2M583.5 514.2V515.2M584.5 514.1V515.1M585.5 514.2V515.2M586.5 513.9V515.2M587.5 514.0V515.2M588.5 514.1V516.7M589.5 514.2V517.7M590.5 514.2V515.2M591.5 514.1V515.2M592.5 514.0V515.3M593.5 514.4V515.4M594.5 513.9V515.1M595.5 514.2V515.2M596.5 514.1V515.2M597.5 514.1V515.1M598.5 514.1V515.1M599.5 510.1V515.2M600.5 513.9V515.1M601.5 514.2V515.2M602.5 507.9V515.3M603.5 514.2V517.9M604.5 514.0V518.7M605.5 514.1V515.1M606.5 514.1V515.2M607.5 514.1V515.2M608.5 514.2V515.2M609.5 514.0V515.2M610.5 514.2V515.2M611.5 505.1V515.0M612.5 508.5V515.1M613.5 514.1V515.2M614.5 514.3V518.6M615.5 514.1V517.0M616.5 514.0V515.1M617.5 514.2V515.2M618.5 514.2V515.2M619.5 514.0V515.1M620.5 514.0V515.1M621.5 514.1V515.1M622.5 514.0V515.1M623.5 514.1V515.1M624.5 514.0V515.1M625.5 514.1V515.2M626.5 514.2V515.2M627.5 514.0V515.2M628.5 514.0V515.2M629.5 514.1V515.2M630.5 514.3V515.3M631.5 513.8V515.2M632.5 514.0V515.3M633.5 513.9V515.1M634.5 514.0V515.1M635.5 510.0V515.1M636.5 514.2V515.2M637.5 510.2V517.1M638.5 514.1V516.3M639.5 508.2V515.5M640.5 514.2V518.5M641.5 506.2V514.2M642.5 514.0V515.3M643.5 514.0V515.2M644.5 514.1V515.1M645.5 514.1V518.3M646.5 514.3V517.3M647.5 504.0V515.2M648.5 514.0V515.1M649.5 514.0V515.1M650.5 514.2V515.2M651.5 513.9V515.2M652.5 514.1V515.2M653.5 505.4V515.1M654.5 514.1V517.7M655.5 514.2V518.4M656.5 514.0V515.3M657.5 513.9V515.0M658.5 514.0V515.1M659.5 514.1V515.1M660.5 514.1V515.2M661.5 507.3V515.1M662.5 514.2V515.2M663.5 513.8V517.4M664.5 514.1V516.8M665.5 514.0V515.2M666.5 514.1V515.1M667.5 514.2V515.2M668.5 514.2V515.2M669.5 514.2V515.3M670.5 514.1V515.3M671.5 514.1V518.6M672.5 514.1V518.1M673.5 514.1V515.2M674.5 514.2V515.5M675.5 514.2V515.5M676.5 514.0V515.2M677.5 514.0V515.1M678.5 504.8V515.2M679.5 514.1V515.2M680.5 514.1V515.1M681.5 514.1V515.2M682.5 514.0V515.2M683.5 514.2V515.2M684.5 514.0V515.1M685.5 514.2V515.2M686.5 514.0V515.2M687.5 514.1V515.1M688.5 506.2V516.9M689.5 514.0V518.7M690.5 514.0V515.1M691.5 514.0V515.2M692.5 509.5V515.0M693.5 514.2V515.2M694.5 514.1V515.2M695.5 514.2V515.2M696.5 514.1V515.2M697.5 514.2V515.2M698.5 514.0V515.1M699.5 514.1V515.2M700.5 514.2V515.2M701.5 514.0V515.2M702.5 514.1V515.3M703.5 514.1V515.2M704.5 514.2V515.2M705.5 505.6V514.0M706.5 514.1V515.2M707.5 514.0V515.4M708.5 515.5V516.5M709.5 514.1V515.6M710.5 504.6V514.4M711.5 514.1V515.3M712.5 514.1V515.4M713.5 516.7V518.3M714.5 514.2V518.5M715.5 514.2V515.2M716.5 514.1V515.2M717.5 514.1V515.1M718.5 514.1V515.1M719.5 514.1V515.2M720.5 514.1V515.2M721.5 514.0V515.8M722.5 508.6V516.3M723.5 514.3V515.3M724.5 504.4V510.5M725.5 514.0V515.2M726.5 514.2V515.2M727.5 513.9V515.4M728.5 514.2V515.3M729.5 514.1V515.2M730.5 514.1V515.1M731.5 514.0V515.1M732.5 514.1V515.2M733.5 514.1V515.2M734.5 510.1V515.2M735.5 514.1V517.6M736.5 514.1V515.1M737.5 513.9V515.2M738.5 514.0V515.3M739.5 507.6V515.3M740.5 514.1V515.2M741.5 514.3V515.3M742.5 514.2V515.3M743.5 514.1V515.3M744.5 514.1V515.2M745.5 514.1V515.2M746.5 514.3V515.3M747.5 514.2V517.4M748.5 514.1V516.4M749.5 514.3V515.3M750.5 514.0V515.1M751.5 508.2V516.3M752.5 514.3V517.3M753.5 514.1V515.2M754.5 514.1V515.1M755.5 509.6V515.2M756.5 506.9V516.2M757.5 514.3V516.9M758.5 514.1V515.2M759.5 514.2V515.3M760.5 514.1V515.3M761.5 514.4V515.4M762.5 514.1V515.2M763.5 514.0V515.5M764.5 516.5V517.5M765.5 509.9V515.7M766.5 514.1V515.4M767.5 514.2V515.3M768.5 514.1V515.3M769.5 509.0V513.9M770.5 508.2V515.2M771.5 506.4V515.1M772.5 514.0V516.4M773.5 516.2V518.8M774.5 514.2V517.8M775.5 514.1V515.4M776.5 514.1V515.4M777.5 513.9V515.3M778.5 514.0V515.2M779.5 514.2V515.2M780.5 504.3V515.2M781.5 513.9V515.1M782.5 514.2V515.2M783.5 514.1V515.2M784.5 514.1V515.1M785.5 514.0V515.1M786.5 514.1V515.2M787.5 514.3V515.3M788.5 514.2V515.3M789.5 513.9V515.2M790.5 514.1V515.1M791.5 514.2V515.2M792.5 514.1V515.2M793.5 514.3V515.3M794.5 514.2V515.3M795.5 514.2V515.3M796.5 514.0V515.2M797.5 514.0V515.1M798.5 505.1V511.5M799.5 514.1V515.2M800.5 514.3V515.4M801.5 514.3V515.4M802.5 514.2V515.3M803.5 514.0V515.2M804.5 514.2V515.2M805.5 514.1V515.2M806.5 514.0V515.1M807.5 514.0V515.2M808.5 507.2V515.2M809.5 514.1V515.5M810.5 515.7V516.7M811.5 514.3V515.6M812.5 514.2V515.3M813.5 507.2V515.0M814.5 514.1V515.3M815.5 514.2V515.3M816.5 506.4V515.2M817.5 514.1V515.2M818.5 484.5V513.1M819.5 497.5V515.2M820.5 514.3V516.4M821.5 514.2V516.5M822.5 514.0V515.4M823.5 514.2V515.2M824.5 514.1V515.1M825.5 514.2V515.2M826.5 513.9V515.2M827.5 514.0V515.1M828.5 514.0V515.1M829.5 505.2V517.9M830.5 514.1V517.1M831.5 513.9V517.1M832.5 514.0V515.2M833.5 514.1V518.0M834.5 509.7V518.6M835.5 514.1V515.2M836.5 514.2V515.2M837.5 514.1V515.2M838.5 514.2V515.2M839.5 514.1V515.3M840.5 514.0V515.2M841.5 514.1V516.1M842.5 514.1V516.6M843.5 504.2V514.1M844.5 514.0V515.3M845.5 514.1V515.2M846.5 514.3V515.3M847.5 506.3V515.1M848.5 514.0V515.2M849.5 514.0V515.2M850.5 514.1V515.1M851.5 514.0V515.1M852.5 514.1V518.9M853.5 514.1V517.5M854.5 514.1V515.2M855.5 514.0V515.3M856.5 514.3V515.3M857.5 514.0V515.2M858.5 505.7V515.2M859.5 514.0V515.2M860.5 514.0V515.2M861.5 514.2V515.2M862.5 514.0V515.3M863.5 514.2V515.4M864.5 514.3V515.3M865.5 514.3V515.3M866.5 505.0V514.3M867.5 514.1V515.2M868.5 514.0V517.2M869.5 514.1V517.0M870.5 504.5V510.3M871.5 514.1V515.1M872.5 514.1V515.1M873.5 514.2V517.8M874.5 504.3V515.7M875.5 514.1V515.2M876.5 514.2V515.2M877.5 514.0V516.6M878.5 514.3V517.6M879.5 514.3V515.3M880.5 514.1V515.3M881.5 514.1V515.2M882.5 507.1V514.8M883.5 514.2V518.7M884.5 514.2V517.8M885.5 505.5V515.4M886.5 514.1V515.2M887.5 514.0V515.1M888.5 514.0V515.7M889.5 516.5V517.5M890.5 513.9V516.9M891.5 514.1V515.2M892.5 514.3V515.3M893.5 513.9V515.1M894.5 514.2V515.2M895.5 514.0V515.1M896.5 514.1V515.2M897.5 514.3V515.3M898.5 514.1V515.1M899.5 514.1V515.1M900.5 505.8V511.8M901.5 504.1V515.0M902.5 514.0V515.1M903.5 514.1V515.2M904.5 506.0V511.6M905.5 514.1V515.1M906.5 514.1V515.1M907.5 514.3V515.3M908.5 514.0V516.8M909.5 514.1V518.5M910.5 513.9V515.0M911.5 514.1V515.2M912.5 514.2V515.2M913.5 508.9V516.9M914.5 514.0V515.9M915.5 513.9V515.2M916.5 514.0V515.3M917.5 514.2V515.3M918.5 514.1V515.3M919.5 514.1V515.3M920.5 514.0V515.2M921.5 514.1V515.8M922.5 514.3V516.5M923.5 514.3V515.3M924.5 514.1V515.3M925.5 514.1V515.2M926.5 514.0V515.9M927.5 504.9V517.0M928.5 514.1V515.1M929.5 514.1V515.2M930.5 514.2V515.2M931.5 514.1V515.2M932.5 514.1V515.1M933.5 514.1V515.1M934.5 514.1V515.3M935.5 514.2V515.2M936.5 514.0V515.4M937.5 513.9V515.3M938.5 514.0V515.1M939.5 513.9V515.1M940.5 514.0V515.1M941.5 514.1V515.2M942.5 514.1V515.2M943.5 514.1V515.1M944.5 514.0V515.8M945.5 514.1V516.9M946.5 514.2V515.3M947.5 514.2V516.0M948.5 517.8V518.8M949.5 513.9V515.7M950.5 514.0V515.2M951.5 514.2V515.2M952.5 505.4V515.2M953.5 514.3V515.3M954.5 514.2V515.3M955.5 514.1V515.2M956.5 514.3V515.3M957.5 514.0V515.3M958.5 514.1V515.2M959.5 514.2V515.3M960.5 514.1V515.2M961.5 514.4V515.4M962.5 514.0V517.4M963.5 516.5V517.5M964.5 514.0V516.5M965.5 514.2V515.8M966.5 514.2V515.2M967.5 514.0V515.1M968.5 514.0V515.2M969.5 509.9V515.1M970.5 509.4V515.1M971.5 514.0V516.4M972.5 514.1V516.7M973.5 514.1V515.3M974.5 513.8V515.1M975.5 514.1V515.2M976.5 514.2V515.2M977.5 510.2V515.1M978.5 514.0V517.6M979.5 514.2V515.2M980.5 514.1V515.1M981.5 514.2V515.2M982.5 514.2V518.2M983.5 514.1V516.6M984.5 514.1V515.1M985.5 514.1V515.1M986.5 514.2V515.2M987.5 504.1V515.1M988.5 514.1V515.1M989.5 514.2V515.2M129 514.5H172" fill="none" stroke="#56b4e9" stroke-width="1"/>
<rect x="163.5" y="418.4" width="12" height="12" fill="none" stroke="#e69f00" stroke-width="1"/>
<rect x="163.5" y="468.5" width="12" height="12" fill="#f0e442" stroke="#f0e442" stroke-width="1"/>
<rect x="668.4" y="468.5" width="12" height="12" fill="#f0e442" stroke="#f0e442" stroke-width="1"/>
<circle cx="95.5" cy="490.5" r="5.2" fill="none" stroke="#0072b2" stroke-width="1.2"/><path d="M89.1 490.5h1.2000000000000002M100.7 490.5h1.2000000000000002M95.5 484.1v1.2000000000000002M95.5 495.7v1.2000000000000002" stroke="#0072b2" stroke-width="1.2"/>
<circle cx="128.7" cy="490.5" r="5.2" fill="none" stroke="#0072b2" stroke-width="1.2"/><path d="M122.3 490.5h1.2000000000000002M133.9 490.5h1.2000000000000002M128.7 484.1v1.2000000000000002M128.7 495.7v1.2000000000000002" stroke="#0072b2" stroke-width="1.2"/>
<circle cx="170.5" cy="489.4" r="5.2" fill="none" stroke="#0072b2" stroke-width="1.2"/><path d="M164.1 489.4h1.2000000000000002M175.7 489.4h1.2000000000000002M170.5 483.0v1.2000000000000002M170.5 494.6v1.2000000000000002" stroke="#0072b2" stroke-width="1.2"/>
<circle cx="203.3" cy="490.5" r="5.2" fill="none" stroke="#0072b2" stroke-width="1.2"/><path d="M196.9 490.5h1.2000000000000002M208.5 490.5h1.2000000000000002M203.3 484.1v1.2000000000000002M203.3 495.7v1.2000000000000002" stroke="#0072b2" stroke-width="1.2"/>
<circle cx="207.6" cy="491.5" r="5.2" fill="none" stroke="#0072b2" stroke-width="1.2"/><path d="M201.2 491.5h1.2000000000000002M212.8 491.5h1.2000000000000002M207.6 485.1v1.2000000000000002M207.6 496.7v1.2000000000000002" stroke="#0072b2" stroke-width="1.2"/>
<circle cx="240.3" cy="485.2" r="5.2" fill="none" stroke="#0072b2" stroke-width="1.2"/><path d="M233.9 485.2h1.2000000000000002M245.5 485.2h1.2000000000000002M240.3 478.8v1.2000000000000002M240.3 490.4v1.2000000000000002" stroke="#0072b2" stroke-width="1.2"/>
<circle cx="244.6" cy="491.4" r="5.2" fill="none" stroke="#0072b2" stroke-width="1.2"/><path d="M238.2 491.4h1.2000000000000002M249.8 491.4h1.2000000000000002M244.6 485.0v1.2000000000000002M244.6 496.6v1.2000000000000002" stroke="#0072b2" stroke-width="1.2"/>
<circle cx="277.3" cy="484.4" r="5.2" fill="none" stroke="#0072b2" stroke-width="1.2"/><path d="M270.9 484.4h1.2000000000000002M282.5 484.4h1.2000000000000002M277.3 478.0v1.2000000000000002M277.3 489.6v1.2000000000000002" stroke="#0072b2" stroke-width="1.2"/>
<circle cx="282.7" cy="492.5" r="5.2" fill="none" stroke="#0072b2" stroke-width="1.2"/><path d="M276.3 492.5h1.2000000000000002M287.9 492.5h1.2000000000000002M282.7 486.1v1.2000000000000002M282.7 497.7v1.2000000000000002" stroke="#0072b2" stroke-width="1.2"/>
<circle cx="315.3" cy="477.2" r="5.2" fill="none" stroke="#0072b2" stroke-width="1.2"/><path d="M308.9 477.2h1.2000000000000002M320.5 477.2h1.2000000000000002M315.3 470.8v1.2000000000000002M315.3 482.4v1.2000000000000002" stroke="#0072b2" stroke-width="1.2"/>
<circle cx="319.7" cy="485.5" r="5.2" fill="none" stroke="#0072b2" stroke-width="1.2"/><path d="M313.3 485.5h1.2000000000000002M324.9 485.5h1.2000000000000002M319.7 479.1v1.2000000000000002M319.7 490.7v1.2000000000000002" stroke="#0072b2" stroke-width="1.2"/>
<circle cx="352.6" cy="485.2" r="5.2" fill="none" stroke="#0072b2" stroke-width="1.2"/><path d="M346.2 485.2h1.2000000000000002M357.8 485.2h1.2000000000000002M352.6 478.8v1.2000000000000002M352.6 490.4v1.2000000000000002" stroke="#0072b2" stroke-width="1.2"/>
<circle cx="356.9" cy="485.2" r="5.2" fill="none" stroke="#0072b2" stroke-width="1.2"/><path d="M350.5 485.2h1.2000000000000002M362.1 485.2h1.2000000000000002M356.9 478.8v1.2000000000000002M356.9 490.4v1.2000000000000002" stroke="#0072b2" stroke-width="1.2"/>
<circle cx="390.3" cy="484.4" r="5.2" fill="none" stroke="#0072b2" stroke-width="1.2"/><path d="M383.9 484.4h1.2000000000000002M395.5 484.4h1.2000000000000002M390.3 478.0v1.2000000000000002M390.3 489.6v1.2000000000000002" stroke="#0072b2" stroke-width="1.2"/>
<circle cx="394.6" cy="484.4" r="5.2" fill="none" stroke="#0072b2" stroke-width="1.2"/><path d="M388.2 484.4h1.2000000000000002M399.8 484.4h1.2000000000000002M394.6 478.0v1.2000000000000002M394.6 489.6v1.2000000000000002" stroke="#0072b2" stroke-width="1.2"/>
<circle cx="427.3" cy="491.5" r="5.2" fill="none" stroke="#0072b2" stroke-width="1.2"/><path d="M420.9 491.5h1.2000000000000002M432.5 491.5h1.2000000000000002M427.3 485.1v1.2000000000000002M427.3 496.7v1.2000000000000002" stroke="#0072b2" stroke-width="1.2"/>
<circle cx="431.6" cy="491.5" r="5.2" fill="none" stroke="#0072b2" stroke-width="1.2"/><path d="M425.2 491.5h1.2000000000000002M436.8 491.5h1.2000000000000002M431.6 485.1v1.2000000000000002M431.6 496.7v1.2000000000000002" stroke="#0072b2" stroke-width="1.2"/>
<circle cx="464.2" cy="483.6" r="5.2" fill="none" stroke="#0072b2" stroke-width="1.2"/><path d="M457.8 483.6h1.2000000000000002M469.4 483.6h1.2000000000000002M464.2 477.2v1.2000000000000002M464.2 488.8v1.2000000000000002" stroke="#0072b2" stroke-width="1.2"/>
<circle cx="468.9" cy="484.4" r="5.2" fill="none" stroke="#0072b2" stroke-width="1.2"/><path d="M462.5 484.4h1.2000000000000002M474.1 484.4h1.2000000000000002M468.9 478.0v1.2000000000000002M468.9 489.6v1.2000000000000002" stroke="#0072b2" stroke-width="1.2"/>
<circle cx="501.4" cy="491.5" r="5.2" fill="none" stroke="#0072b2" stroke-width="1.2"/><path d="M495.0 491.5h1.2000000000000002M506.6 491.5h1.2000000000000002M501.4 485.1v1.2000000000000002M501.4 496.7v1.2000000000000002" stroke="#0072b2" stroke-width="1.2"/>
<circle cx="505.8" cy="478.4" r="5.2" fill="none" stroke="#0072b2" stroke-width="1.2"/><path d="M499.4 478.4h1.2000000000000002M511.0 478.4h1.2000000000000002M505.8 472.0v1.2000000000000002M505.8 483.6v1.2000000000000002" stroke="#0072b2" stroke-width="1.2"/>
<circle cx="538.2" cy="484.4" r="5.2" fill="none" stroke="#0072b2" stroke-width="1.2"/><path d="M531.8 484.4h1.2000000000000002M543.4 484.4h1.2000000000000002M538.2 478.0v1.2000000000000002M538.2 489.6v1.2000000000000002" stroke="#0072b2" stroke-width="1.2"/>
<circle cx="543.4" cy="490.5" r="5.2" fill="none" stroke="#0072b2" stroke-width="1.2"/><path d="M537.0 490.5h1.2000000000000002M548.6 490.5h1.2000000000000002M543.4 484.1v1.2000000000000002M543.4 495.7v1.2000000000000002" stroke="#0072b2" stroke-width="1.2"/>
<circle cx="576.4" cy="485.5" r="5.2" fill="none" stroke="#0072b2" stroke-width="1.2"/><path d="M570.0 485.5h1.2000000000000002M581.6 485.5h1.2000000000000002M576.4 479.1v1.2000000000000002M576.4 490.7v1.2000000000000002" stroke="#0072b2" stroke-width="1.2"/>
<circle cx="580.5" cy="490.5" r="5.2" fill="none" stroke="#0072b2" stroke-width="1.2"/><path d="M574.1 490.5h1.2000000000000002M585.7 490.5h1.2000000000000002M580.5 484.1v1.2000000000000002M580.5 495.7v1.2000000000000002" stroke="#0072b2" stroke-width="1.2"/>
<circle cx="613.3" cy="485.5" r="5.2" fill="none" stroke="#0072b2" stroke-width="1.2"/><path d="M606.9 485.5h1.2000000000000002M618.5 485.5h1.2000000000000002M613.3 479.1v1.2000000000000002M613.3 490.7v1.2000000000000002" stroke="#0072b2" stroke-width="1.2"/>
<circle cx="618.0" cy="483.5" r="5.2" fill="none" stroke="#0072b2" stroke-width="1.2"/><path d="M611.6 483.5h1.2000000000000002M623.2 483.5h1.2000000000000002M618.0 477.1v1.2000000000000002M618.0 488.7v1.2000000000000002" stroke="#0072b2" stroke-width="1.2"/>
<circle cx="650.6" cy="471.4" r="5.2" fill="none" stroke="#0072b2" stroke-width="1.2"/><path d="M644.2 471.4h1.2000000000000002M655.8 471.4h1.2000000000000002M650.6 465.0v1.2000000000000002M650.6 476.6v1.2000000000000002" stroke="#0072b2" stroke-width="1.2"/>
<circle cx="655.6" cy="484.4" r="5.2" fill="none" stroke="#0072b2" stroke-width="1.2"/><path d="M649.2 484.4h1.2000000000000002M660.8 484.4h1.2000000000000002M655.6 478.0v1.2000000000000002M655.6 489.6v1.2000000000000002" stroke="#0072b2" stroke-width="1.2"/>
<circle cx="688.2" cy="484.4" r="5.2" fill="none" stroke="#0072b2" stroke-width="1.2"/><path d="M681.8 484.4h1.2000000000000002M693.4 484.4h1.2000000000000002M688.2 478.0v1.2000000000000002M688.2 489.6v1.2000000000000002" stroke="#0072b2" stroke-width="1.2"/>
<circle cx="692.5" cy="491.5" r="5.2" fill="none" stroke="#0072b2" stroke-width="1.2"/><path d="M686.1 491.5h1.2000000000000002M697.7 491.5h1.2000000000000002M692.5 485.1v1.2000000000000002M692.5 496.7v1.2000000000000002" stroke="#0072b2" stroke-width="1.2"/>
<circle cx="725.3" cy="484.4" r="5.2" fill="none" stroke="#0072b2" stroke-width="1.2"/><path d="M718.9 484.4h1.2000000000000002M730.5 484.4h1.2000000000000002M725.3 478.0v1.2000000000000002M725.3 489.6v1.2000000000000002" stroke="#0072b2" stroke-width="1.2"/>
<circle cx="729.5" cy="490.5" r="5.2" fill="none" stroke="#0072b2" stroke-width="1.2"/><path d="M723.1 490.5h1.2000000000000002M734.7 490.5h1.2000000000000002M729.5 484.1v1.2000000000000002M729.5 495.7v1.2000000000000002" stroke="#0072b2" stroke-width="1.2"/>
<circle cx="762.2" cy="483.6" r="5.2" fill="none" stroke="#0072b2" stroke-width="1.2"/><path d="M755.8 483.6h1.2000000000000002M767.4 483.6h1.2000000000000002M762.2 477.2v1.2000000000000002M762.2 488.8v1.2000000000000002" stroke="#0072b2" stroke-width="1.2"/>
<circle cx="766.4" cy="484.4" r="5.2" fill="none" stroke="#0072b2" stroke-width="1.2"/><path d="M760.0 484.4h1.2000000000000002M771.6 484.4h1.2000000000000002M766.4 478.0v1.2000000000000002M766.4 489.6v1.2000000000000002" stroke="#0072b2" stroke-width="1.2"/>
<circle cx="799.3" cy="484.4" r="5.2" fill="none" stroke="#0072b2" stroke-width="1.2"/><path d="M792.9 484.4h1.2000000000000002M804.5 484.4h1.2000000000000002M799.3 478.0v1.2000000000000002M799.3 489.6v1.2000000000000002" stroke="#0072b2" stroke-width="1.2"/>
<circle cx="804.5" cy="485.2" r="5.2" fill="none" stroke="#0072b2" stroke-width="1.2"/><path d="M798.1 485.2h1.2000000000000002M809.7 485.2h1.2000000000000002M804.5 478.8v1.2000000000000002M804.5 490.4v1.2000000000000002" stroke="#0072b2" stroke-width="1.2"/>
<circle cx="837.5" cy="490.5" r="5.2" fill="none" stroke="#0072b2" stroke-width="1.2"/><path d="M831.1 490.5h1.2000000000000002M842.7 490.5h1.2000000000000002M837.5 484.1v1.2000000000000002M837.5 495.7v1.2000000000000002" stroke="#0072b2" stroke-width="1.2"/>
<circle cx="841.5" cy="477.6" r="5.2" fill="none" stroke="#0072b2" stroke-width="1.2"/><path d="M835.1 477.6h1.2000000000000002M846.7 477.6h1.2000000000000002M841.5 471.2v1.2000000000000002M841.5 482.8v1.2000000000000002" stroke="#0072b2" stroke-width="1.2"/>
<circle cx="874.2" cy="481.6" r="5.2" fill="none" stroke="#0072b2" stroke-width="1.2"/><path d="M867.8 481.6h1.2000000000000002M879.4 481.6h1.2000000000000002M874.2 475.2v1.2000000000000002M874.2 486.8v1.2000000000000002" stroke="#0072b2" stroke-width="1.2"/>
<circle cx="878.7" cy="483.5" r="5.2" fill="none" stroke="#0072b2" stroke-width="1.2"/><path d="M872.3 483.5h1.2000000000000002M883.9 483.5h1.2000000000000002M878.7 477.1v1.2000000000000002M878.7 488.7v1.2000000000000002" stroke="#0072b2" stroke-width="1.2"/>
<circle cx="911.7" cy="490.5" r="5.2" fill="none" stroke="#0072b2" stroke-width="1.2"/><path d="M905.3 490.5h1.2000000000000002M916.9 490.5h1.2000000000000002M911.7 484.1v1.2000000000000002M911.7 495.7v1.2000000000000002" stroke="#0072b2" stroke-width="1.2"/>
<circle cx="916.4" cy="484.4" r="5.2" fill="none" stroke="#0072b2" stroke-width="1.2"/><path d="M910.0 484.4h1.2000000000000002M921.6 484.4h1.2000000000000002M916.4 478.0v1.2000000000000002M916.4 489.6v1.2000000000000002" stroke="#0072b2" stroke-width="1.2"/>
<circle cx="949.3" cy="483.5" r="5.2" fill="none" stroke="#0072b2" stroke-width="1.2"/><path d="M942.9 483.5h1.2000000000000002M954.5 483.5h1.2000000000000002M949.3 477.1v1.2000000000000002M949.3 488.7v1.2000000000000002" stroke="#0072b2" stroke-width="1.2"/>
<circle cx="953.7" cy="480.5" r="5.2" fill="none" stroke="#0072b2" stroke-width="1.2"/><path d="M947.3 480.5h1.2000000000000002M958.9 480.5h1.2000000000000002M953.7 474.1v1.2000000000000002M953.7 485.7v1.2000000000000002" stroke="#0072b2" stroke-width="1.2"/>
<circle cx="986.7" cy="490.5" r="5.2" fill="none" stroke="#0072b2" stroke-width="1.2"/><path d="M980.3 490.5h1.2000000000000002M991.9 490.5h1.2000000000000002M986.7 484.1v1.2000000000000002M986.7 495.7v1.2000000000000002" stroke="#0072b2" stroke-width="1.2"/>
<circle cx="95.5" cy="520.0" r="5.45" fill="#e51e10"/><path d="M89.1 520.0h12.8M95.5 513.6v12.8" stroke="#e51e10" stroke-width="1"/>
<circle cx="128.7" cy="520.0" r="5.45" fill="#e51e10"/><path d="M122.3 520.0h12.8M128.7 513.6v12.8" stroke="#e51e10" stroke-width="1"/>
<circle cx="170.5" cy="520.0" r="5.45" fill="#e51e10"/><path d="M164.1 520.0h12.8M170.5 513.6v12.8" stroke="#e51e10" stroke-width="1"/>
<circle cx="203.3" cy="520.0" r="5.45" fill="#e51e10"/><path d="M196.9 520.0h12.8M203.3 513.6v12.8" stroke="#e51e10" stroke-width="1"/>
<circle cx="207.6" cy="520.0" r="5.45" fill="#e51e10"/><path d="M201.2 520.0h12.8M207.6 513.6v12.8" stroke="#e51e10" stroke-width="1"/>
<circle cx="240.3" cy="518.1" r="5.45" fill="#e51e10"/><path d="M233.9 518.1h12.8M240.3 511.7v12.8" stroke="#e51e10" stroke-width="1"/>
<circle cx="244.6" cy="518.1" r="5.45" fill="#e51e10"/><path d="M238.2 518.1h12.8M244.6 511.7v12.8" stroke="#e51e10" stroke-width="1"/>
<circle cx="277.3" cy="518.1" r="5.45" fill="#e51e10"/><path d="M270.9 518.1h12.8M277.3 511.7v12.8" stroke="#e51e10" stroke-width="1"/>
<circle cx="282.7" cy="518.1" r="5.45" fill="#e51e10"/><path d="M276.3 518.1h12.8M282.7 511.7v12.8" stroke="#e51e10" stroke-width="1"/>
<circle cx="315.3" cy="518.1" r="5.45" fill="#e51e10"/><path d="M308.9 518.1h12.8M315.3 511.7v12.8" stroke="#e51e10" stroke-width="1"/>
<circle cx="319.7" cy="518.1" r="5.45" fill="#e51e10"/><path d="M313.3 518.1h12.8M319.7 511.7v12.8" stroke="#e51e10" stroke-width="1"/>
<circle cx="352.6" cy="518.1" r="5.45" fill="#e51e10"/><path d="M346.2 518.1h12.8M352.6 511.7v12.8" stroke="#e51e10" stroke-width="1"/>
<circle cx="356.9" cy="518.1" r="5.45" fill="#e51e10"/><path d="M350.5 518.1h12.8M356.9 511.7v12.8" stroke="#e51e10" stroke-width="1"/>
<circle cx="390.3" cy="518.1" r="5.45" fill="#e51e10"/><path d="M383.9 518.1h12.8M390.3 511.7v12.8" stroke="#e51e10" stroke-width="1"/>
<circle cx="394.6" cy="518.1" r="5.45" fill="#e51e10"/><path d="M388.2 518.1h12.8M394.6 511.7v12.8" stroke="#e51e10" stroke-width="1"/>
<circle cx="427.3" cy="518.1" r="5.45" fill="#e51e10"/><path d="M420.9 518.1h12.8M427.3 511.7v12.8" stroke="#e51e10" stroke-width="1"/>
<circle cx="431.6" cy="518.1" r="5.45" fill="#e51e10"/><path d="M425.2 518.1h12.8M431.6 511.7v12.8" stroke="#e51e10" stroke-width="1"/>
<circle cx="464.2" cy="518.1" r="5.45" fill="#e51e10"/><path d="M457.8 518.1h12.8M464.2 511.7v12.8" stroke="#e51e10" stroke-width="1"/>
<circle cx="468.9" cy="518.1" r="5.45" fill="#e51e10"/><path d="M462.5 518.1h12.8M468.9 511.7v12.8" stroke="#e51e10" stroke-width="1"/>
<circle cx="501.4" cy="518.1" r="5.45" fill="#e51e10"/><path d="M495.0 518.1h12.8M501.4 511.7v12.8" stroke="#e51e10" stroke-width="1"/>
<circle cx="505.8" cy="518.1" r="5.45" fill="#e51e10"/><path d="M499.4 518.1h12.8M505.8 511.7v12.8" stroke="#e51e10" stroke-width="1"/>
<circle cx="538.2" cy="518.1" r="5.45" fill="#e51e10"/><path d="M531.8 518.1h12.8M538.2 511.7v12.8" stroke="#e51e10" stroke-width="1"/>
<circle cx="543.4" cy="518.1" r="5.45" fill="#e51e10"/><path d="M537.0 518.1h12.8M543.4 511.7v12.8" stroke="#e51e10" stroke-width="1"/>
<circle cx="576.4" cy="518.1" r="5.45" fill="#e51e10"/><path d="M570.0 518.1h12.8M576.4 511.7v12.8" stroke="#e51e10" stroke-width="1"/>
<circle cx="580.5" cy="518.1" r="5.45" fill="#e51e10"/><path d="M574.1 518.1h12.8M580.5 511.7v12.8" stroke="#e51e10" stroke-width="1"/>
<circle cx="613.3" cy="518.1" r="5.45" fill="#e51e10"/><path d="M606.9 518.1h12.8M613.3 511.7v12.8" stroke="#e51e10" stroke-width="1"/>
<circle cx="618.0" cy="518.1" r="5.45" fill="#e51e10"/><path d="M611.6 518.1h12.8M618.0 511.7v12.8" stroke="#e51e10" stroke-width="1"/>
<circle cx="650.6" cy="518.1" r="5.45" fill="#e51e10"/><path d="M644.2 518.1h12.8M650.6 511.7v12.8" stroke="#e51e10" stroke-width="1"/>
<circle cx="655.6" cy="518.1" r="5.45" fill="#e51e10"/><path d="M649.2 518.1h12.8M655.6 511.7v12.8" stroke="#e51e10" stroke-width="1"/>
<circle cx="688.2" cy="518.1" r="5.45" fill="#e51e10"/><path d="M681.8 518.1h12.8M688.2 511.7v12.8" stroke="#e51e10" stroke-width="1"/>
<circle cx="692.5" cy="518.1" r="5.45" fill="#e51e10"/><path d="M686.1 518.1h12.8M692.5 511.7v12.8" stroke="#e51e10" stroke-width="1"/>
<circle cx="725.3" cy="518.1" r="5.45" fill="#e51e10"/><path d="M718.9 518.1h12.8M725.3 511.7v12.8" stroke="#e51e10" stroke-width="1"/>
<circle cx="729.5" cy="518.1" r="5.45" fill="#e51e10"/><path d="M723.1 518.1h12.8M729.5 511.7v12.8" stroke="#e51e10" stroke-width="1"/>
<circle cx="762.2" cy="518.1" r="5.45" fill="#e51e10"/><path d="M755.8 518.1h12.8M762.2 511.7v12.8" stroke="#e51e10" stroke-width="1"/>
<circle cx="766.4" cy="518.1" r="5.45" fill="#e51e10"/><path d="M760.0 518.1h12.8M766.4 511.7v12.8" stroke="#e51e10" stroke-width="1"/>
<circle cx="799.3" cy="520.0" r="5.45" fill="#e51e10"/><path d="M792.9 520.0h12.8M799.3 513.6v12.8" stroke="#e51e10" stroke-width="1"/>
<circle cx="804.5" cy="520.0" r="5.45" fill="#e51e10"/><path d="M798.1 520.0h12.8M804.5 513.6v12.8" stroke="#e51e10" stroke-width="1"/>
<circle cx="837.5" cy="520.0" r="5.45" fill="#e51e10"/><path d="M831.1 520.0h12.8M837.5 513.6v12.8" stroke="#e51e10" stroke-width="1"/>
<circle cx="841.5" cy="520.0" r="5.45" fill="#e51e10"/><path d="M835.1 520.0h12.8M841.5 513.6v12.8" stroke="#e51e10" stroke-width="1"/>
<circle cx="874.2" cy="518.1" r="5.45" fill="#e51e10"/><path d="M867.8 518.1h12.8M874.2 511.7v12.8" stroke="#e51e10" stroke-width="1"/>
<circle cx="878.7" cy="520.0" r="5.45" fill="#e51e10"/><path d="M872.3 520.0h12.8M878.7 513.6v12.8" stroke="#e51e10" stroke-width="1"/>
<circle cx="911.7" cy="519.2" r="5.45" fill="#e51e10"/><path d="M905.3 519.2h12.8M911.7 512.8v12.8" stroke="#e51e10" stroke-width="1"/>
<circle cx="916.4" cy="519.2" r="5.45" fill="#e51e10"/><path d="M910.0 519.2h12.8M916.4 512.8v12.8" stroke="#e51e10" stroke-width="1"/>
<circle cx="949.3" cy="520.0" r="5.45" fill="#e51e10"/><path d="M942.9 520.0h12.8M949.3 513.6v12.8" stroke="#e51e10" stroke-width="1"/>
<circle cx="953.7" cy="520.0" r="5.45" fill="#e51e10"/><path d="M947.3 520.0h12.8M953.7 513.6v12.8" stroke="#e51e10" stroke-width="1"/>
<circle cx="986.7" cy="520.0" r="5.45" fill="#e51e10"/><path d="M980.3 520.0h12.8M986.7 513.6v12.8" stroke="#e51e10" stroke-width="1"/>
<path d="M161.7 456.5L169.5 444.6L177.3 456.5Z" stroke="#000" stroke-width="1" fill="none" stroke-linejoin="miter"/>
<path d="M706.7 456.5L714.5 444.6L722.3 456.5Z" stroke="#000" stroke-width="1" fill="none" stroke-linejoin="miter"/>
<path d="M163.0 413.5h13M169.5 407.0v13" stroke="#9400d3" stroke-width="1" fill="none"/>
<path d="M668.0 413.5h13M674.5 407.0v13" stroke="#9400d3" stroke-width="1" fill="none"/>
</g>
<g id="border"><path d="M94.5 74.5H989.5V522.5H94.5Z" fill="none" stroke="#000" stroke-width="1"/></g>
<g id="key" fill="#000">
<text x="729.7" y="94" textLength="181.35" lengthAdjust="spacing">&quot;Ypingresult.txt&quot; using 1:2</text>
<path d="M923 90.5H970" stroke="#9400d3" stroke-width="1" fill="none"/>
<text x="710.7" y="113" textLength="200.39" lengthAdjust="spacing">&quot;YTimetcpping.txt&quot; using 1:2</text>
<path d="M923 109.5H970" stroke="#009e73" stroke-width="1" fill="none"/>
<text x="661.7" y="132" textLength="249.71" lengthAdjust="spacing">&quot;YCustPingSiteTimes.txt&quot; using 1:2</text>
<path d="M923 128.5H970" stroke="#56b4e9" stroke-width="1" fill="none"/>
<text x="716.51" y="151" textLength="194.89" lengthAdjust="spacing">&quot;Yofflineresult.txt&quot; using 1:2</text>
<text x="703.97" y="170" textLength="207.09" lengthAdjust="spacing">&quot;Ytcpoff_record.txt&quot; using 1:2</text>
<text x="692.93" y="189" textLength="218.18" lengthAdjust="spacing">&quot;Ygooglecurltime.txt&quot; using 1:2</text>
<text x="667.64" y="208" textLength="243.39" lengthAdjust="spacing">&quot;Ygooglecurldnstime.txt&quot; using 1:2</text>
<text x="674.89" y="227" textLength="236.16" lengthAdjust="spacing">&quot;YCustPingTimeout.txt&quot; using 1:2</text>
<text x="705.64" y="246" textLength="205.44" lengthAdjust="spacing">&quot;YHPpingresult.txt&quot; using 1:2</text>
<rect x="940.5" y="141.5" width="12" height="12" fill="none" stroke="#e69f00" stroke-width="1"/>
<rect x="940.5" y="160.5" width="12" height="12" fill="#f0e442" stroke="#f0e442" stroke-width="1"/>
<circle cx="946.5" cy="185.5" r="5.2" fill="none" stroke="#0072b2" stroke-width="1.2"/><path d="M940.1 185.5h1.2000000000000002M951.7 185.5h1.2000000000000002M946.5 179.1v1.2000000000000002M946.5 190.7v1.2000000000000002" stroke="#0072b2" stroke-width="1.2"/>
<circle cx="946.5" cy="204.5" r="5.45" fill="#e51e10"/><path d="M940.1 204.5h12.8M946.5 198.1v12.8" stroke="#e51e10" stroke-width="1"/>
<path d="M938.7 227.4L946.5 215.5L954.3 227.4Z" stroke="#000" stroke-width="1" fill="none" stroke-linejoin="miter"/>
<path d="M940.0 242.5h13M946.5 236.0v13" stroke="#9400d3" stroke-width="1" fill="none"/>
</g>
<g id="axes" fill="#000">
<text x="91.9" y="545" text-anchor="middle" >00:00</text>
<text x="166.5" y="545" text-anchor="middle" >02:00</text>
<text x="241.1" y="545" text-anchor="middle" >04:00</text>
<text x="315.6" y="545" text-anchor="middle" >06:00</text>
<text x="389.6" y="545" text-anchor="middle" >08:00</text>
<text x="465.6" y="545" text-anchor="middle" >10:00</text>
<text x="540.9" y="545" text-anchor="middle" >12:00</text>
<text x="614.5" y="545" text-anchor="middle" >14:00</text>
<text x="690.1" y="545" text-anchor="middle" >16:00</text>
<text x="763.1" y="545" text-anchor="middle" >18:00</text>
<text x="839.2" y="545" text-anchor="middle" >20:00</text>
<text x="912.3" y="545" text-anchor="middle" >22:00</text>
<text x="986.9" y="545" text-anchor="middle" >00:00</text>
<text x="80.6" y="526.0" text-anchor="end" >0</text>
<text x="80.6" y="417.0" text-anchor="end" >500</text>
<text x="80.6" y="307.0" text-anchor="end" >1000</text>
<text x="80.6" y="198.0" text-anchor="end" >1500</text>
<text x="80.6" y="89.0" text-anchor="end" >2000</text>
<text x="278.95" y="49" textLength="521.56" lengthAdjust="spacing">pi21 Mar 18  near/far ICMP/TCP ping and curl times [No msmt 1AM-2AM]</text>
<text x="182.64" y="573" textLength="713.44" lengthAdjust="spacing">&lt;-START at 2AM Yday, right to 12AM Tday-&gt;, then wrap left to 1AM Tday&lt;- [ignore connecting lines]</text>
<text transform="translate(17.3 299) rotate(-90)" text-anchor="middle">msec</text>
</g>
</svg>
</body></html>
